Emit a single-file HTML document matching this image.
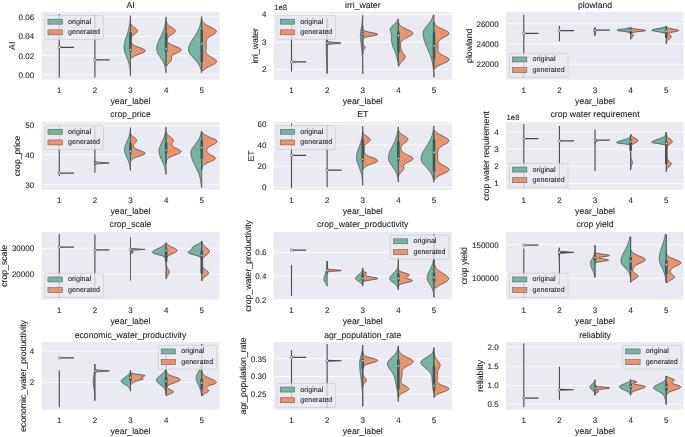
<!DOCTYPE html>
<html lang="en">
<head>
<meta charset="utf-8">
<title>violin plots: original vs generated</title>
<style>
html,body{margin:0;padding:0;background:#fff;}
body{width:685px;height:437px;overflow:hidden;}
svg{display:block;will-change:transform;}
svg text{text-rendering:geometricPrecision;font-family:"Liberation Sans",Arial,Helvetica,sans-serif;fill:#262626;stroke:#262626;stroke-width:0.1px;}
</style>
</head>
<body>
<svg width="685" height="437" viewBox="0 0 685 437">
<rect width="685" height="437" fill="#fff"/>
<g>
<rect x="41.45" y="11.9" width="178.1" height="67.8" fill="#eaeaf2"/>
<clipPath id="c0"><rect x="41.45" y="11.9" width="178.1" height="67.8"/></clipPath>
<path d="M41.45 17.1H219.55" stroke="#fff" stroke-width="0.8"/>
<text x="34.15" y="19.95" font-size="8.0" text-anchor="end">0.06</text>
<path d="M41.45 36.4H219.55" stroke="#fff" stroke-width="0.8"/>
<text x="34.15" y="39.25" font-size="8.0" text-anchor="end">0.04</text>
<path d="M41.45 55.7H219.55" stroke="#fff" stroke-width="0.8"/>
<text x="34.15" y="58.55" font-size="8.0" text-anchor="end">0.02</text>
<path d="M41.45 75H219.55" stroke="#fff" stroke-width="0.8"/>
<text x="34.15" y="77.85" font-size="8.0" text-anchor="end">0.00</text>
<text x="59.26" y="93.2" font-size="8.0" text-anchor="middle">1</text>
<text x="94.88" y="93.2" font-size="8.0" text-anchor="middle">2</text>
<text x="130.5" y="93.2" font-size="8.0" text-anchor="middle">3</text>
<text x="166.12" y="93.2" font-size="8.0" text-anchor="middle">4</text>
<text x="201.74" y="93.2" font-size="8.0" text-anchor="middle">5</text>
<g clip-path="url(#c0)" fill="none">
<path d="M59.26 13.9V77.5" stroke="#505050" stroke-width="1.15"/>
<path d="M59.26 47.3H73.86" stroke="#484848" stroke-width="1.25"/>
<circle cx="59.26" cy="47.3" r="1.25" fill="#fff" stroke="#484848" stroke-width="0.6"/>
<path d="M94.88 15.1V77.5" stroke="#505050" stroke-width="1.15"/>
<path d="M94.88 59.9H109.48" stroke="#484848" stroke-width="1.25"/>
<circle cx="94.88" cy="59.9" r="1.25" fill="#fff" stroke="#484848" stroke-width="0.6"/>
<path d="M130.5 15.8L130.35 15.8L130.34 16.2L130.32 16.6L130.31 17L130.29 17.4L130.27 17.8L130.25 18.2L130.22 18.6L130.2 19L130.17 19.4L130.14 19.8L130.11 20.2L130.08 20.6L130.04 21L130 21.4L129.96 21.8L129.92 22.2L129.87 22.6L129.83 23L129.77 23.4L129.72 23.8L129.66 24.2L129.6 24.6L129.54 25L129.47 25.4L129.4 25.8L129.33 26.2L129.25 26.6L129.17 27L129.09 27.4L129 27.8L128.91 28.2L128.82 28.6L128.72 29L128.62 29.4L128.52 29.8L128.41 30.2L128.3 30.6L128.18 31L128.07 31.4L127.95 31.8L127.83 32.2L127.7 32.6L127.58 33L127.45 33.4L127.32 33.8L127.19 34.2L127.06 34.6L126.92 35L126.79 35.4L126.65 35.8L126.52 36.2L126.38 36.6L126.25 37L126.11 37.4L125.98 37.8L125.85 38.2L125.72 38.6L125.6 39L125.48 39.4L125.36 39.8L125.24 40.2L125.13 40.6L125.02 41L124.91 41.4L124.82 41.8L124.72 42.2L124.63 42.6L124.55 43L124.48 43.4L124.41 43.8L124.34 44.2L124.29 44.6L124.24 45L124.2 45.4L124.16 45.8L124.13 46.2L124.12 46.6L124.1 47L124.1 47.4L124.11 47.8L124.12 48.2L124.15 48.6L124.19 49L124.24 49.4L124.3 49.8L124.37 50.2L124.45 50.6L124.54 51L124.64 51.4L124.75 51.8L124.87 52.2L124.99 52.6L125.12 53L125.26 53.4L125.4 53.8L125.55 54.2L125.7 54.6L125.85 55L126.01 55.4L126.17 55.8L126.33 56.2L126.5 56.6L126.66 57L126.82 57.4L126.98 57.8L127.15 58.2L127.31 58.6L127.46 59L127.62 59.4L127.77 59.8L127.92 60.2L128.06 60.6L128.2 61L128.34 61.4L128.47 61.8L128.6 62.2L128.72 62.6L128.84 63L128.95 63.4L129.06 63.8L129.16 64.2L129.26 64.6L129.35 65L129.44 65.4L129.52 65.8L129.6 66.2L129.67 66.6L129.74 67L129.8 67.4L129.86 67.8L129.92 68.2L129.97 68.6L130.02 69L130.06 69.4L130.1 69.8L130.14 70.2L130.18 70.6L130.21 71L130.24 71.4L130.26 71.8L130.29 72.2L130.31 72.6L130.33 73L130.35 73.4L130.37 73.8L130.38 74.2L130.39 74.6L130.41 75L130.42 75.4L130.43 75.8L130.5 75.8 Z" fill="#72b6a1" stroke="#505050" stroke-width="0.85" stroke-linejoin="round"/>
<path d="M130.5 24.5L131.45 24.5L131.71 24.9L132.02 25.3L132.37 25.7L132.78 26.1L133.23 26.51L133.71 26.91L134.23 27.31L134.76 27.71L135.29 28.11L135.8 28.51L136.27 28.91L136.69 29.31L137.04 29.72L137.29 30.12L137.45 30.52L137.5 30.92L137.44 31.32L137.27 31.72L137.01 32.12L136.65 32.52L136.23 32.92L135.75 33.33L135.24 33.73L134.71 34.13L134.18 34.53L133.67 34.93L133.18 35.33L132.74 35.73L132.34 36.13L131.99 36.54L131.68 36.94L131.43 37.34L131.22 37.74L131.05 38.14L130.92 38.54L130.82 38.94L130.75 39.34L130.71 39.75L130.69 40.15L130.69 40.55L130.72 40.95L130.78 41.35L130.86 41.75L130.99 42.15L131.15 42.55L131.37 42.95L131.65 43.36L132 43.76L132.43 44.16L132.94 44.56L133.55 44.96L134.26 45.36L135.05 45.76L135.94 46.16L136.91 46.57L137.94 46.97L139 47.37L140.08 47.77L141.13 48.17L142.12 48.57L143.02 48.97L143.8 49.37L144.41 49.77L144.84 50.18L145.07 50.58L145.08 50.98L144.88 51.38L144.47 51.78L143.87 52.18L143.12 52.58L142.23 52.98L141.24 53.39L140.19 53.79L139.12 54.19L138.05 54.59L137.02 54.99L136.05 55.39L135.15 55.79L134.34 56.19L133.62 56.6L133 57L132.48 57.4L132.04 57.8L131.68 58.2L130.5 58.2 Z" fill="#e9946f" stroke="#505050" stroke-width="0.85" stroke-linejoin="round"/>
<path d="M130.5 24.5V57.9" stroke="#505050" stroke-width="0.6"/>
<path d="M130.5 32.3V51.5" stroke="#505050" stroke-width="2.6"/>
<circle cx="130.5" cy="49.7" r="1.05" fill="#fff" stroke="#484848" stroke-width="0.6"/>
<path d="M166.12 17L165.92 17L165.9 17.4L165.88 17.8L165.85 18.2L165.83 18.6L165.8 19L165.77 19.4L165.74 19.81L165.7 20.21L165.66 20.61L165.62 21.01L165.58 21.41L165.53 21.81L165.48 22.21L165.43 22.61L165.37 23.01L165.31 23.41L165.25 23.81L165.18 24.21L165.11 24.61L165.03 25.01L164.95 25.42L164.87 25.82L164.78 26.22L164.68 26.62L164.58 27.02L164.48 27.42L164.37 27.82L164.25 28.22L164.13 28.62L164.01 29.02L163.88 29.42L163.75 29.82L163.61 30.22L163.46 30.62L163.31 31.03L163.16 31.43L163 31.83L162.83 32.23L162.67 32.63L162.49 33.03L162.32 33.43L162.14 33.83L161.95 34.23L161.77 34.63L161.58 35.03L161.38 35.43L161.19 35.83L160.99 36.23L160.8 36.64L160.6 37.04L160.4 37.44L160.2 37.84L160 38.24L159.81 38.64L159.61 39.04L159.42 39.44L159.23 39.84L159.04 40.24L158.86 40.64L158.68 41.04L158.5 41.44L158.33 41.84L158.17 42.25L158.01 42.65L157.86 43.05L157.72 43.45L157.58 43.85L157.46 44.25L157.34 44.65L157.23 45.05L157.13 45.45L157.04 45.85L156.97 46.25L156.9 46.65L156.84 47.05L156.79 47.45L156.76 47.86L156.73 48.26L156.72 48.66L156.72 49.06L156.74 49.46L156.78 49.86L156.84 50.26L156.92 50.66L157.02 51.06L157.14 51.46L157.27 51.86L157.43 52.26L157.6 52.66L157.78 53.06L157.98 53.47L158.19 53.87L158.42 54.27L158.65 54.67L158.9 55.07L159.15 55.47L159.4 55.87L159.67 56.27L159.93 56.67L160.2 57.07L160.47 57.47L160.74 57.87L161 58.27L161.27 58.67L161.53 59.08L161.79 59.48L162.04 59.88L162.28 60.28L162.52 60.68L162.75 61.08L162.98 61.48L163.19 61.88L163.4 62.28L163.6 62.68L163.78 63.08L163.96 63.48L164.13 63.88L164.29 64.28L164.44 64.69L164.59 65.09L164.72 65.49L164.84 65.89L164.96 66.29L165.07 66.69L165.17 67.09L165.26 67.49L165.35 67.89L165.42 68.29L165.5 68.69L165.56 69.09L165.62 69.49L165.68 69.89L165.72 70.3L165.77 70.7L165.81 71.1L165.85 71.5L165.88 71.9L165.91 72.3L165.93 72.7L166.12 72.7 Z" fill="#72b6a1" stroke="#505050" stroke-width="0.85" stroke-linejoin="round"/>
<path d="M166.12 21L166.31 21L166.38 21.4L166.47 21.8L166.58 22.2L166.73 22.6L166.9 23L167.11 23.41L167.37 23.81L167.67 24.21L168.02 24.61L168.42 25.01L168.88 25.41L169.38 25.81L169.92 26.21L170.5 26.61L171.1 27.01L171.72 27.41L172.34 27.82L172.94 28.22L173.51 28.62L174.03 29.02L174.47 29.42L174.84 29.82L175.11 30.22L175.27 30.62L175.32 31.02L175.26 31.42L175.08 31.82L174.8 32.23L174.43 32.63L173.97 33.03L173.45 33.43L172.88 33.83L172.27 34.23L171.65 34.63L171.04 35.03L170.44 35.43L169.86 35.83L169.33 36.23L168.84 36.63L168.4 37.04L168.02 37.44L167.69 37.84L167.42 38.24L167.2 38.64L167.04 39.04L166.93 39.44L166.87 39.84L166.87 40.24L166.92 40.64L167.04 41.04L167.21 41.45L167.45 41.85L167.76 42.25L168.14 42.65L168.61 43.05L169.16 43.45L169.79 43.85L170.51 44.25L171.31 44.65L172.19 45.05L173.12 45.45L174.1 45.86L175.11 46.26L176.12 46.66L177.11 47.06L178.04 47.46L178.9 47.86L179.65 48.26L180.26 48.66L180.73 49.06L181.02 49.46L181.14 49.86L181.08 50.27L180.83 50.67L180.42 51.07L179.87 51.47L179.19 51.87L178.41 52.27L177.57 52.67L176.7 53.07L175.83 53.47L174.99 53.87L174.21 54.27L173.51 54.68L172.9 55.08L172.41 55.48L172.03 55.88L171.75 56.28L171.58 56.68L171.49 57.08L171.46 57.48L171.48 57.88L171.52 58.28L171.55 58.68L171.56 59.08L171.53 59.49L171.44 59.89L171.29 60.29L171.07 60.69L170.8 61.09L170.47 61.49L170.1 61.89L169.7 62.29L169.29 62.69L168.87 63.09L168.47 63.49L168.1 63.9L167.75 64.3L167.44 64.7L167.17 65.1L166.94 65.5L166.75 65.9L166.12 65.9 Z" fill="#e9946f" stroke="#505050" stroke-width="0.85" stroke-linejoin="round"/>
<path d="M166.12 21V65.4" stroke="#505050" stroke-width="0.6"/>
<path d="M166.12 33.2V51.5" stroke="#505050" stroke-width="2.6"/>
<circle cx="166.12" cy="48.9" r="1.05" fill="#fff" stroke="#484848" stroke-width="0.6"/>
<path d="M201.74 16.7L201.44 16.7L201.41 17.1L201.38 17.5L201.35 17.9L201.31 18.3L201.27 18.7L201.23 19.1L201.18 19.5L201.14 19.9L201.08 20.3L201.03 20.7L200.97 21.1L200.91 21.5L200.84 21.9L200.77 22.3L200.69 22.7L200.61 23.1L200.52 23.5L200.43 23.9L200.33 24.3L200.23 24.7L200.13 25.1L200.01 25.5L199.89 25.9L199.77 26.3L199.64 26.7L199.5 27.1L199.36 27.5L199.21 27.9L199.05 28.3L198.89 28.7L198.72 29.1L198.54 29.5L198.36 29.9L198.17 30.3L197.97 30.7L197.77 31.1L197.56 31.5L197.35 31.9L197.13 32.3L196.9 32.7L196.67 33.1L196.43 33.5L196.19 33.9L195.95 34.3L195.7 34.7L195.44 35.1L195.19 35.5L194.93 35.9L194.66 36.3L194.4 36.7L194.13 37.1L193.87 37.5L193.6 37.9L193.33 38.3L193.07 38.7L192.8 39.1L192.54 39.5L192.28 39.9L192.03 40.3L191.78 40.7L191.53 41.1L191.29 41.5L191.05 41.9L190.83 42.3L190.61 42.7L190.39 43.1L190.19 43.5L190 43.9L189.81 44.3L189.64 44.7L189.48 45.1L189.32 45.5L189.19 45.9L189.06 46.3L188.95 46.7L188.85 47.1L188.76 47.5L188.69 47.9L188.63 48.3L188.59 48.7L188.56 49.1L188.54 49.5L188.54 49.9L188.57 50.3L188.63 50.7L188.72 51.1L188.83 51.5L188.97 51.9L189.14 52.3L189.34 52.7L189.55 53.1L189.8 53.5L190.06 53.9L190.34 54.3L190.64 54.7L190.95 55.1L191.28 55.5L191.62 55.9L191.98 56.3L192.34 56.7L192.7 57.1L193.08 57.5L193.45 57.9L193.83 58.3L194.2 58.7L194.58 59.1L194.95 59.5L195.31 59.9L195.67 60.3L196.03 60.7L196.37 61.1L196.7 61.5L197.03 61.9L197.34 62.3L197.64 62.7L197.93 63.1L198.21 63.5L198.47 63.9L198.72 64.3L198.96 64.7L199.18 65.1L199.39 65.5L199.59 65.9L199.78 66.3L199.95 66.7L200.12 67.1L200.27 67.5L200.41 67.9L200.54 68.3L200.65 68.7L200.76 69.1L200.86 69.5L200.96 69.9L201.04 70.3L201.12 70.7L201.19 71.1L201.25 71.5L201.3 71.9L201.35 72.3L201.4 72.7L201.74 72.7 Z" fill="#72b6a1" stroke="#505050" stroke-width="0.85" stroke-linejoin="round"/>
<path d="M201.74 19.9L202.12 19.9L202.23 20.3L202.36 20.7L202.53 21.1L202.72 21.5L202.96 21.9L203.24 22.3L203.57 22.71L203.95 23.11L204.38 23.51L204.87 23.91L205.42 24.31L206.03 24.71L206.69 25.11L207.4 25.51L208.15 25.91L208.94 26.31L209.76 26.71L210.59 27.11L211.41 27.52L212.22 27.92L212.99 28.32L213.72 28.72L214.38 29.12L214.95 29.52L215.44 29.92L215.81 30.32L216.08 30.72L216.22 31.12L216.24 31.52L216.15 31.92L215.93 32.32L215.61 32.73L215.19 33.13L214.69 33.53L214.12 33.93L213.5 34.33L212.83 34.73L212.15 35.13L211.47 35.53L210.79 35.93L210.14 36.33L209.53 36.73L208.95 37.13L208.43 37.53L207.96 37.94L207.56 38.34L207.2 38.74L206.91 39.14L206.67 39.54L206.48 39.94L206.33 40.34L206.23 40.74L206.16 41.14L206.12 41.54L206.11 41.94L206.11 42.34L206.13 42.75L206.15 43.15L206.18 43.55L206.21 43.95L206.24 44.35L206.26 44.75L206.28 45.15L206.28 45.55L206.28 45.95L206.27 46.35L206.25 46.75L206.22 47.15L206.18 47.55L206.13 47.96L206.07 48.36L206.02 48.76L205.96 49.16L205.9 49.56L205.85 49.96L205.81 50.36L205.79 50.76L205.79 51.16L205.81 51.56L205.87 51.96L205.96 52.36L206.1 52.77L206.28 53.17L206.52 53.57L206.82 53.97L207.18 54.37L207.59 54.77L208.07 55.17L208.61 55.57L209.2 55.97L209.85 56.37L210.53 56.77L211.23 57.17L211.96 57.57L212.68 57.98L213.38 58.38L214.06 58.78L214.68 59.18L215.23 59.58L215.7 59.98L216.07 60.38L216.34 60.78L216.48 61.18L216.51 61.58L216.4 61.98L216.17 62.38L215.82 62.78L215.36 63.19L214.8 63.59L214.15 63.99L213.43 64.39L212.65 64.79L211.83 65.19L211 65.59L210.15 65.99L209.31 66.39L208.5 66.79L207.72 67.19L206.98 67.59L206.29 68L205.65 68.4L205.08 68.8L204.56 69.2L204.1 69.6L203.7 70L203.35 70.4L201.74 70.4 Z" fill="#e9946f" stroke="#505050" stroke-width="0.85" stroke-linejoin="round"/>
<path d="M201.74 22.8V68.9" stroke="#505050" stroke-width="0.6"/>
<path d="M201.74 29.7V61.9" stroke="#505050" stroke-width="2.6"/>
<circle cx="201.74" cy="43.7" r="1.05" fill="#fff" stroke="#484848" stroke-width="0.6"/>
</g>
<rect x="44.85" y="15.5" width="58.6" height="23.9" rx="1.6" fill="#eaeaf2" fill-opacity="0.8" stroke="#ccc" stroke-width="0.7"/>
<rect x="47.95" y="19.15" width="14.4" height="5" fill="#72b6a1" stroke="#505050" stroke-width="0.5"/>
<text x="68.05" y="23.65" font-size="7.12">original</text>
<rect x="47.95" y="29.85" width="14.4" height="5" fill="#e9946f" stroke="#505050" stroke-width="0.5"/>
<text x="68.05" y="34.35" font-size="7.12">generated</text>
<text x="130.5" y="7.7" font-size="8.67" text-anchor="middle">AI</text>
<text x="130.5" y="104" font-size="8.67" text-anchor="middle">year_label</text>
<text transform="translate(14.65 45.8) rotate(-90)" font-size="8.67" text-anchor="middle">AI</text>
</g>
<g>
<rect x="273.7" y="11.9" width="178.1" height="67.8" fill="#eaeaf2"/>
<clipPath id="c1"><rect x="273.7" y="11.9" width="178.1" height="67.8"/></clipPath>
<path d="M273.7 14.6H451.8" stroke="#fff" stroke-width="0.8"/>
<text x="266.4" y="17.45" font-size="8.0" text-anchor="end">4</text>
<path d="M273.7 42.3H451.8" stroke="#fff" stroke-width="0.8"/>
<text x="266.4" y="45.15" font-size="8.0" text-anchor="end">3</text>
<path d="M273.7 69.6H451.8" stroke="#fff" stroke-width="0.8"/>
<text x="266.4" y="72.45" font-size="8.0" text-anchor="end">2</text>
<text x="291.51" y="93.2" font-size="8.0" text-anchor="middle">1</text>
<text x="327.13" y="93.2" font-size="8.0" text-anchor="middle">2</text>
<text x="362.75" y="93.2" font-size="8.0" text-anchor="middle">3</text>
<text x="398.37" y="93.2" font-size="8.0" text-anchor="middle">4</text>
<text x="433.99" y="93.2" font-size="8.0" text-anchor="middle">5</text>
<g clip-path="url(#c1)" fill="none">
<path d="M291.51 23.9V71.5" stroke="#505050" stroke-width="1.15"/>
<path d="M291.51 61.9H306.11" stroke="#484848" stroke-width="1.25"/>
<circle cx="291.51" cy="61.9" r="1.25" fill="#fff" stroke="#484848" stroke-width="0.6"/>
<path d="M327.13 18.3L327.12 18.3L327.12 18.7L327.12 19.1L327.11 19.5L327.11 19.9L327.11 20.3L327.11 20.7L327.11 21.09L327.1 21.49L327.1 21.89L327.1 22.29L327.09 22.69L327.09 23.09L327.08 23.49L327.08 23.89L327.07 24.29L327.07 24.69L327.06 25.09L327.06 25.49L327.05 25.89L327.04 26.29L327.04 26.68L327.03 27.08L327.02 27.48L327.01 27.88L327 28.28L326.99 28.68L326.98 29.08L326.97 29.48L326.95 29.88L326.94 30.28L326.93 30.68L326.91 31.08L326.9 31.48L326.88 31.88L326.86 32.27L326.85 32.67L326.83 33.07L326.81 33.47L326.79 33.87L326.77 34.27L326.75 34.67L326.73 35.07L326.71 35.47L326.69 35.87L326.67 36.27L326.65 36.67L326.63 37.07L326.61 37.47L326.59 37.86L326.56 38.26L326.54 38.66L326.52 39.06L326.5 39.46L326.48 39.86L326.46 40.26L326.44 40.66L326.42 41.06L326.4 41.46L326.38 41.86L326.36 42.26L326.35 42.66L326.33 43.06L326.31 43.45L326.3 43.85L326.29 44.25L326.28 44.65L326.27 45.05L326.26 45.45L326.25 45.85L326.24 46.25L326.24 46.65L326.23 47.05L326.23 47.45L326.23 47.85L326.23 48.25L326.23 48.64L326.24 49.04L326.24 49.44L326.25 49.84L326.25 50.24L326.26 50.64L326.27 51.04L326.28 51.44L326.3 51.84L326.31 52.24L326.33 52.64L326.34 53.04L326.36 53.44L326.38 53.84L326.39 54.23L326.41 54.63L326.43 55.03L326.45 55.43L326.47 55.83L326.49 56.23L326.52 56.63L326.54 57.03L326.56 57.43L326.58 57.83L326.6 58.23L326.62 58.63L326.65 59.03L326.67 59.43L326.69 59.82L326.71 60.22L326.73 60.62L326.75 61.02L326.77 61.42L326.79 61.82L326.81 62.22L326.83 62.62L326.84 63.02L326.86 63.42L326.88 63.82L326.89 64.22L326.91 64.62L326.92 65.02L326.94 65.41L326.95 65.81L326.96 66.21L326.97 66.61L326.99 67.01L327 67.41L327.01 67.81L327.02 68.21L327.02 68.61L327.03 69.01L327.04 69.41L327.05 69.81L327.06 70.21L327.06 70.61L327.07 71L327.07 71.4L327.08 71.8L327.08 72.2L327.09 72.6L327.09 73L327.1 73.4L327.13 73.4 Z" fill="#72b6a1" stroke="#505050" stroke-width="0.85" stroke-linejoin="round"/>
<path d="M327.13 40.4L327.13 40.4L327.14 40.81L327.23 41.22L327.83 41.62L330.07 42.03L334.97 42.44L340.3 42.85L341.06 43.25L336.42 43.66L331.04 44.07L328.16 44.48L327.3 44.88L327.15 45.29L327.13 45.7L327.13 45.7 Z" fill="#e9946f" stroke="#505050" stroke-width="0.85" stroke-linejoin="round"/>
<path d="M327.13 18.3V73.4" stroke="#505050" stroke-width="0.8"/>
<circle cx="327.13" cy="43.1" r="1.1" fill="#fff" stroke="#484848" stroke-width="0.6"/>
<path d="M362.75 15.3L362.67 15.3L362.66 15.7L362.65 16.1L362.64 16.5L362.62 16.91L362.6 17.31L362.58 17.71L362.56 18.11L362.54 18.51L362.51 18.91L362.48 19.31L362.45 19.72L362.42 20.12L362.38 20.52L362.35 20.92L362.3 21.32L362.26 21.72L362.21 22.12L362.16 22.52L362.11 22.93L362.05 23.33L361.99 23.73L361.93 24.13L361.87 24.53L361.8 24.93L361.73 25.33L361.66 25.74L361.59 26.14L361.51 26.54L361.44 26.94L361.37 27.34L361.29 27.74L361.22 28.14L361.14 28.55L361.07 28.95L361 29.35L360.93 29.75L360.87 30.15L360.81 30.55L360.75 30.95L360.69 31.35L360.64 31.76L360.6 32.16L360.56 32.56L360.53 32.96L360.5 33.36L360.48 33.76L360.46 34.16L360.45 34.57L360.45 34.97L360.45 35.37L360.46 35.77L360.47 36.17L360.48 36.57L360.49 36.97L360.51 37.38L360.53 37.78L360.55 38.18L360.58 38.58L360.6 38.98L360.63 39.38L360.67 39.78L360.7 40.18L360.74 40.59L360.78 40.99L360.82 41.39L360.86 41.79L360.9 42.19L360.95 42.59L361 42.99L361.04 43.4L361.09 43.8L361.14 44.2L361.19 44.6L361.24 45L361.29 45.4L361.34 45.8L361.39 46.21L361.44 46.61L361.5 47.01L361.55 47.41L361.6 47.81L361.64 48.21L361.69 48.61L361.74 49.02L361.79 49.42L361.83 49.82L361.88 50.22L361.92 50.62L361.96 51.02L362.01 51.42L362.05 51.82L362.08 52.23L362.12 52.63L362.16 53.03L362.19 53.43L362.23 53.83L362.26 54.23L362.29 54.63L362.32 55.04L362.35 55.44L362.37 55.84L362.4 56.24L362.42 56.64L362.45 57.04L362.47 57.44L362.49 57.85L362.51 58.25L362.53 58.65L362.54 59.05L362.56 59.45L362.57 59.85L362.59 60.25L362.6 60.65L362.61 61.06L362.63 61.46L362.64 61.86L362.65 62.26L362.65 62.66L362.66 63.06L362.67 63.46L362.68 63.87L362.68 64.27L362.69 64.67L362.7 65.07L362.7 65.47L362.71 65.87L362.71 66.27L362.71 66.68L362.72 67.08L362.72 67.48L362.72 67.88L362.73 68.28L362.73 68.68L362.73 69.08L362.73 69.48L362.74 69.89L362.74 70.29L362.74 70.69L362.74 71.09L362.74 71.49L362.74 71.89L362.74 72.29L362.74 72.7L362.74 73.1L362.75 73.5L362.75 73.9L362.75 73.9 Z" fill="#72b6a1" stroke="#505050" stroke-width="0.85" stroke-linejoin="round"/>
<path d="M362.75 25.9L362.75 25.9L362.75 26.3L362.75 26.7L362.75 27.1L362.75 27.5L362.76 27.9L362.78 28.3L362.82 28.7L362.89 29.1L363.02 29.5L363.27 29.9L363.68 30.3L364.32 30.7L365.27 31.1L366.56 31.5L368.21 31.9L370.16 32.3L372.25 32.7L374.29 33.1L376 33.5L377.15 33.9L377.55 34.3L377.15 34.7L376 35.1L374.29 35.5L372.25 35.9L370.16 36.3L368.21 36.7L366.56 37.1L365.27 37.5L364.32 37.9L363.68 38.3L363.27 38.7L363.02 39.1L362.89 39.5L362.82 39.9L362.78 40.3L362.76 40.7L362.76 41.1L362.76 41.5L362.76 41.9L362.77 42.3L362.79 42.7L362.83 43.1L362.9 43.5L363 43.9L363.16 44.3L363.37 44.7L363.64 45.1L363.95 45.5L364.29 45.9L364.62 46.3L364.9 46.7L365.08 47.1L365.15 47.5L365.08 47.9L364.9 48.3L364.62 48.7L364.29 49.1L363.95 49.5L363.64 49.9L363.37 50.3L363.16 50.7L363 51.1L362.9 51.5L362.83 51.9L362.79 52.3L362.77 52.7L362.76 53.1L362.75 53.5L362.75 53.9L362.75 53.9 Z" fill="#e9946f" stroke="#505050" stroke-width="0.85" stroke-linejoin="round"/>
<path d="M362.75 32.4V36.4" stroke="#505050" stroke-width="2.6"/>
<circle cx="362.75" cy="34.3" r="1.05" fill="#fff" stroke="#484848" stroke-width="0.6"/>
<path d="M398.37 19.2L397.84 19.2L397.72 19.6L397.58 20L397.42 20.4L397.23 20.8L397.01 21.2L396.76 21.6L396.48 22L396.17 22.4L395.82 22.8L395.44 23.2L395.04 23.6L394.61 24L394.17 24.4L393.71 24.8L393.25 25.2L392.8 25.6L392.36 26L391.94 26.4L391.56 26.8L391.21 27.2L390.91 27.6L390.65 28L390.45 28.4L390.3 28.8L390.21 29.2L390.17 29.6L390.17 30L390.22 30.4L390.3 30.8L390.41 31.2L390.54 31.6L390.68 32L390.83 32.4L390.97 32.8L391.1 33.2L391.23 33.6L391.33 34L391.42 34.4L391.49 34.8L391.54 35.2L391.57 35.6L391.59 36L391.59 36.4L391.58 36.8L391.57 37.2L391.55 37.6L391.53 38L391.52 38.4L391.5 38.8L391.5 39.2L391.5 39.6L391.52 40L391.54 40.4L391.57 40.8L391.61 41.2L391.65 41.6L391.71 42L391.77 42.4L391.85 42.8L391.93 43.2L392.02 43.6L392.12 44L392.22 44.4L392.34 44.8L392.46 45.2L392.59 45.6L392.72 46L392.86 46.4L393.01 46.8L393.16 47.2L393.31 47.6L393.47 48L393.63 48.4L393.79 48.8L393.96 49.2L394.12 49.6L394.29 50L394.45 50.4L394.62 50.8L394.78 51.2L394.94 51.6L395.1 52L395.26 52.4L395.41 52.8L395.56 53.2L395.71 53.6L395.85 54L395.99 54.4L396.13 54.8L396.26 55.2L396.39 55.6L396.51 56L396.63 56.4L396.74 56.8L396.85 57.2L396.95 57.6L397.05 58L397.14 58.4L397.23 58.8L397.31 59.2L397.39 59.6L397.47 60L397.54 60.4L397.6 60.8L397.67 61.2L397.72 61.6L397.78 62L397.83 62.4L398.37 62.4 Z" fill="#72b6a1" stroke="#505050" stroke-width="0.85" stroke-linejoin="round"/>
<path d="M398.37 22.4L398.66 22.4L398.75 22.8L398.87 23.2L399.02 23.59L399.21 23.99L399.43 24.39L399.7 24.79L400.03 25.19L400.41 25.59L400.85 25.98L401.36 26.38L401.93 26.78L402.57 27.18L403.28 27.58L404.04 27.97L404.86 28.37L405.71 28.77L406.59 29.17L407.49 29.57L408.37 29.97L409.23 30.36L410.04 30.76L410.78 31.16L411.44 31.56L411.98 31.96L412.4 32.35L412.69 32.75L412.84 33.15L412.84 33.55L412.69 33.95L412.4 34.35L411.98 34.74L411.45 35.14L410.81 35.54L410.1 35.94L409.33 36.34L408.51 36.73L407.68 37.13L406.86 37.53L406.05 37.93L405.28 38.33L404.56 38.73L403.89 39.12L403.29 39.52L402.76 39.92L402.3 40.32L401.9 40.72L401.57 41.11L401.3 41.51L401.09 41.91L400.92 42.31L400.8 42.71L400.71 43.11L400.64 43.5L400.6 43.9L400.58 44.3L400.57 44.7L400.57 45.1L400.57 45.49L400.58 45.89L400.59 46.29L400.61 46.69L400.63 47.09L400.66 47.49L400.7 47.88L400.75 48.28L400.81 48.68L400.89 49.08L400.99 49.48L401.12 49.87L401.27 50.27L401.45 50.67L401.66 51.07L401.9 51.47L402.16 51.87L402.44 52.26L402.74 52.66L403.05 53.06L403.37 53.46L403.68 53.86L403.99 54.25L404.28 54.65L404.53 55.05L404.75 55.45L404.93 55.85L405.06 56.25L405.13 56.64L405.14 57.04L405.09 57.44L404.97 57.84L404.8 58.24L404.58 58.63L404.31 59.03L403.99 59.43L403.64 59.83L403.26 60.23L402.87 60.63L402.47 61.02L402.07 61.42L401.67 61.82L401.29 62.22L400.93 62.62L400.59 63.01L400.27 63.41L399.99 63.81L399.73 64.21L399.51 64.61L399.31 65.01L399.14 65.4L398.99 65.8L398.87 66.2L398.37 66.2 Z" fill="#e9946f" stroke="#505050" stroke-width="0.85" stroke-linejoin="round"/>
<path d="M398.37 22.4V65.9" stroke="#505050" stroke-width="0.6"/>
<path d="M398.37 31.5V52.5" stroke="#505050" stroke-width="2.6"/>
<circle cx="398.37" cy="35.5" r="1.05" fill="#fff" stroke="#484848" stroke-width="0.6"/>
<path d="M433.99 15L433.2 15L433.11 15.4L433 15.8L432.89 16.2L432.77 16.59L432.64 16.99L432.49 17.39L432.34 17.79L432.18 18.19L432 18.59L431.81 18.99L431.61 19.39L431.4 19.78L431.17 20.18L430.94 20.58L430.69 20.98L430.43 21.38L430.16 21.78L429.88 22.18L429.59 22.58L429.29 22.97L428.99 23.37L428.68 23.77L428.36 24.17L428.04 24.57L427.71 24.97L427.38 25.37L427.06 25.77L426.73 26.16L426.41 26.56L426.1 26.96L425.79 27.36L425.49 27.76L425.21 28.16L424.93 28.56L424.67 28.96L424.43 29.35L424.2 29.75L423.99 30.15L423.81 30.55L423.65 30.95L423.51 31.35L423.39 31.75L423.3 32.14L423.24 32.54L423.2 32.94L423.19 33.34L423.19 33.74L423.21 34.14L423.23 34.54L423.25 34.94L423.29 35.33L423.33 35.73L423.38 36.13L423.44 36.53L423.5 36.93L423.57 37.33L423.65 37.73L423.73 38.13L423.83 38.52L423.92 38.92L424.03 39.32L424.14 39.72L424.25 40.12L424.37 40.52L424.5 40.92L424.63 41.32L424.76 41.71L424.9 42.11L425.05 42.51L425.19 42.91L425.35 43.31L425.5 43.71L425.66 44.11L425.82 44.51L425.98 44.9L426.15 45.3L426.32 45.7L426.49 46.1L426.66 46.5L426.83 46.9L427 47.3L427.18 47.69L427.35 48.09L427.52 48.49L427.7 48.89L427.87 49.29L428.04 49.69L428.22 50.09L428.39 50.49L428.56 50.88L428.73 51.28L428.89 51.68L429.06 52.08L429.22 52.48L429.38 52.88L429.54 53.28L429.7 53.68L429.85 54.07L430 54.47L430.15 54.87L430.3 55.27L430.44 55.67L430.58 56.07L430.71 56.47L430.85 56.87L430.98 57.26L431.1 57.66L431.23 58.06L431.34 58.46L431.46 58.86L431.57 59.26L431.68 59.66L431.79 60.06L431.89 60.45L431.99 60.85L432.09 61.25L432.18 61.65L432.27 62.05L432.36 62.45L432.44 62.85L432.52 63.24L432.59 63.64L432.67 64.04L432.74 64.44L432.81 64.84L432.87 65.24L432.93 65.64L432.99 66.04L433.05 66.43L433.1 66.83L433.15 67.23L433.2 67.63L433.25 68.03L433.29 68.43L433.34 68.83L433.38 69.23L433.41 69.62L433.45 70.02L433.48 70.42L433.52 70.82L433.55 71.22L433.58 71.62L433.6 72.02L433.63 72.42L433.65 72.81L433.68 73.21L433.7 73.61L433.72 74.01L433.74 74.41L433.76 74.81L433.77 75.21L433.79 75.61L433.8 76L433.82 76.4L433.83 76.8L433.84 77.2L433.99 77.2 Z" fill="#72b6a1" stroke="#505050" stroke-width="0.85" stroke-linejoin="round"/>
<path d="M433.99 22.4L434.35 22.4L434.46 22.8L434.59 23.2L434.76 23.6L434.97 24L435.22 24.4L435.53 24.81L435.88 25.21L436.29 25.61L436.77 26.01L437.31 26.41L437.92 26.81L438.59 27.21L439.32 27.61L440.11 28.01L440.95 28.41L441.82 28.81L442.71 29.21L443.61 29.62L444.49 30.02L445.34 30.42L446.14 30.82L446.87 31.22L447.51 31.62L448.05 32.02L448.46 32.42L448.74 32.82L448.89 33.22L448.89 33.62L448.75 34.02L448.48 34.43L448.09 34.83L447.59 35.23L447 35.63L446.33 36.03L445.61 36.43L444.86 36.83L444.09 37.23L443.32 37.63L442.58 38.03L441.87 38.43L441.22 38.84L440.61 39.24L440.07 39.64L439.6 40.04L439.2 40.44L438.86 40.84L438.59 41.24L438.37 41.64L438.21 42.04L438.1 42.44L438.02 42.84L437.98 43.24L437.96 43.65L437.96 44.05L437.97 44.45L438 44.85L438.02 45.25L438.04 45.65L438.06 46.05L438.07 46.45L438.08 46.85L438.08 47.25L438.07 47.65L438.06 48.06L438.04 48.46L438.02 48.86L438.01 49.26L438.01 49.66L438.02 50.06L438.06 50.46L438.13 50.86L438.23 51.26L438.38 51.66L438.59 52.06L438.86 52.46L439.19 52.87L439.6 53.27L440.08 53.67L440.63 54.07L441.25 54.47L441.94 54.87L442.68 55.27L443.46 55.67L444.26 56.07L445.06 56.47L445.85 56.87L446.59 57.28L447.28 57.68L447.87 58.08L448.35 58.48L448.71 58.88L448.93 59.28L449 59.68L448.91 60.08L448.67 60.48L448.27 60.88L447.74 61.28L447.09 61.68L446.34 62.09L445.5 62.49L444.6 62.89L443.67 63.29L442.72 63.69L441.78 64.09L440.86 64.49L439.98 64.89L439.16 65.29L438.41 65.69L437.72 66.09L437.1 66.49L436.56 66.9L436.09 67.3L435.68 67.7L435.34 68.1L435.06 68.5L434.82 68.9L433.99 68.9 Z" fill="#e9946f" stroke="#505050" stroke-width="0.85" stroke-linejoin="round"/>
<path d="M433.99 22.4V68.9" stroke="#505050" stroke-width="0.6"/>
<path d="M433.99 32.4V58.9" stroke="#505050" stroke-width="2.6"/>
<circle cx="433.99" cy="46.1" r="1.05" fill="#fff" stroke="#484848" stroke-width="0.6"/>
</g>
<rect x="277.1" y="15.5" width="58.6" height="23.9" rx="1.6" fill="#eaeaf2" fill-opacity="0.8" stroke="#ccc" stroke-width="0.7"/>
<rect x="280.2" y="19.15" width="14.4" height="5" fill="#72b6a1" stroke="#505050" stroke-width="0.5"/>
<text x="300.3" y="23.65" font-size="7.12">original</text>
<rect x="280.2" y="29.85" width="14.4" height="5" fill="#e9946f" stroke="#505050" stroke-width="0.5"/>
<text x="300.3" y="34.35" font-size="7.12">generated</text>
<text x="362.75" y="7.7" font-size="8.67" text-anchor="middle">irri_water</text>
<text x="362.75" y="104" font-size="8.67" text-anchor="middle">year_label</text>
<text transform="translate(258.2 45.8) rotate(-90)" font-size="8.67" text-anchor="middle">irri_water</text>
<text x="274.3" y="10" font-size="7.7">1e8</text>
</g>
<g>
<rect x="506" y="11.9" width="178.1" height="67.8" fill="#eaeaf2"/>
<clipPath id="c2"><rect x="506" y="11.9" width="178.1" height="67.8"/></clipPath>
<path d="M506 23.7H684.1" stroke="#fff" stroke-width="0.8"/>
<text x="498.7" y="26.55" font-size="8.0" text-anchor="end">26000</text>
<path d="M506 43.7H684.1" stroke="#fff" stroke-width="0.8"/>
<text x="498.7" y="46.55" font-size="8.0" text-anchor="end">24000</text>
<path d="M506 64.3H684.1" stroke="#fff" stroke-width="0.8"/>
<text x="498.7" y="67.15" font-size="8.0" text-anchor="end">22000</text>
<text x="523.81" y="93.2" font-size="8.0" text-anchor="middle">1</text>
<text x="559.43" y="93.2" font-size="8.0" text-anchor="middle">2</text>
<text x="595.05" y="93.2" font-size="8.0" text-anchor="middle">3</text>
<text x="630.67" y="93.2" font-size="8.0" text-anchor="middle">4</text>
<text x="666.29" y="93.2" font-size="8.0" text-anchor="middle">5</text>
<g clip-path="url(#c2)" fill="none">
<path d="M523.81 14.8V77.8" stroke="#505050" stroke-width="1.15"/>
<path d="M523.81 33.3H538.41" stroke="#484848" stroke-width="1.25"/>
<circle cx="523.81" cy="33.3" r="1.25" fill="#fff" stroke="#484848" stroke-width="0.6"/>
<path d="M559.43 25.7V41.2" stroke="#505050" stroke-width="1.15"/>
<path d="M559.43 30.5H574.03" stroke="#484848" stroke-width="1.25"/>
<circle cx="559.43" cy="30.5" r="1.25" fill="#fff" stroke="#484848" stroke-width="0.6"/>
<path d="M595.05 27.4L594.96 27.4L594.87 27.8L594.74 28.21L594.54 28.61L594.31 29.02L594.07 29.42L593.87 29.83L593.76 30.23L593.77 30.64L593.9 31.04L594.11 31.45L594.36 31.86L594.58 32.26L594.77 32.66L594.89 33.07L594.97 33.48L595.01 33.88L595.04 34.28L595.04 34.69L595.05 35.09L595.05 35.5L595.05 35.5 Z" fill="#72b6a1" stroke="#505050" stroke-width="0.85" stroke-linejoin="round"/>
<path d="M595.05 27.4V35.5" stroke="#505050" stroke-width="1.15"/>
<path d="M595.05 30.2H609.65" stroke="#484848" stroke-width="1.25"/>
<circle cx="595.05" cy="30.2" r="1.1" fill="#fff" stroke="#484848" stroke-width="0.6"/>
<path d="M630.67 27.7L629.87 27.7L628.82 28.1L626.98 28.5L624.3 28.9L621.18 29.3L618.44 29.7L617.03 30.1L617.52 30.5L619.7 30.9L622.76 31.3L625.73 31.7L628 32.1L629.43 32.5L630.17 32.9L630.49 33.3L630.62 33.7L630.66 34.1L630.67 34.5L630.67 34.9L630.67 34.9 Z" fill="#72b6a1" stroke="#505050" stroke-width="0.85" stroke-linejoin="round"/>
<path d="M630.67 27.7L630.97 27.7L631.52 28.1L632.73 28.51L634.91 28.91L638.09 29.31L641.71 29.72L644.63 30.12L645.67 30.52L644.36 30.93L641.3 31.33L637.71 31.73L634.68 32.14L632.73 32.54L631.8 32.94L631.6 33.35L631.84 33.75L632.31 34.16L632.85 34.56L633.33 34.96L633.62 35.37L633.64 35.77L633.39 36.17L632.93 36.58L632.38 36.98L631.84 37.38L631.4 37.79L631.08 38.19L630.88 38.59L630.77 39L630.71 39.4L630.67 39.4 Z" fill="#e9946f" stroke="#505050" stroke-width="0.85" stroke-linejoin="round"/>
<path d="M630.67 27.7V39.1" stroke="#505050" stroke-width="0.6"/>
<path d="M630.67 29.9V33.4" stroke="#505050" stroke-width="2.6"/>
<circle cx="630.67" cy="30.5" r="1.05" fill="#fff" stroke="#484848" stroke-width="0.6"/>
<path d="M666.29 26.1L666.02 26.1L665.73 26.5L665.19 26.9L664.31 27.3L662.99 27.7L661.17 28.1L658.95 28.5L656.52 28.9L654.25 29.3L652.53 29.7L651.72 30.1L652 30.5L653.3 30.9L655.34 31.3L657.74 31.7L660.1 32.1L662.14 32.5L663.71 32.9L664.8 33.3L665.5 33.7L665.9 34.1L666.11 34.5L666.21 34.9L666.26 35.3L666.28 35.7L666.29 36.1L666.29 36.5L666.29 36.9L666.29 36.9 Z" fill="#72b6a1" stroke="#505050" stroke-width="0.85" stroke-linejoin="round"/>
<path d="M666.29 26.1L666.33 26.1L666.4 26.5L666.56 26.91L666.91 27.31L667.55 27.72L668.62 28.12L670.21 28.53L672.28 28.93L674.61 29.34L676.76 29.74L678.27 30.15L678.74 30.55L678.06 30.95L676.43 31.36L674.3 31.76L672.17 32.17L670.43 32.57L669.26 32.98L668.68 33.38L668.58 33.79L668.82 34.19L669.26 34.6L669.78 35L670.31 35.4L670.77 35.81L671.1 36.21L671.27 36.62L671.26 37.02L671.07 37.43L670.72 37.83L670.25 38.24L669.69 38.64L669.11 39.05L668.55 39.45L668.03 39.85L667.58 40.26L667.21 40.66L666.92 41.07L666.71 41.47L666.56 41.88L666.46 42.28L666.39 42.69L666.35 43.09L666.32 43.5L666.31 43.9L666.29 43.9 Z" fill="#e9946f" stroke="#505050" stroke-width="0.85" stroke-linejoin="round"/>
<path d="M666.29 26.1V43.9" stroke="#505050" stroke-width="0.6"/>
<path d="M666.29 30.9V37.9" stroke="#505050" stroke-width="2.6"/>
<circle cx="666.29" cy="31.4" r="1.05" fill="#fff" stroke="#484848" stroke-width="0.6"/>
</g>
<rect x="509.4" y="53.3" width="58.6" height="23.9" rx="1.6" fill="#eaeaf2" fill-opacity="0.8" stroke="#ccc" stroke-width="0.7"/>
<rect x="512.5" y="56.95" width="14.4" height="5" fill="#72b6a1" stroke="#505050" stroke-width="0.5"/>
<text x="532.6" y="61.45" font-size="7.12">original</text>
<rect x="512.5" y="67.65" width="14.4" height="5" fill="#e9946f" stroke="#505050" stroke-width="0.5"/>
<text x="532.6" y="72.15" font-size="7.12">generated</text>
<text x="595.05" y="7.7" font-size="8.67" text-anchor="middle">plowland</text>
<text x="595.05" y="104" font-size="8.67" text-anchor="middle">year_label</text>
<text transform="translate(472 45.8) rotate(-90)" font-size="8.67" text-anchor="middle">plowland</text>
</g>
<g>
<rect x="41.45" y="122" width="178.1" height="67.8" fill="#eaeaf2"/>
<clipPath id="c3"><rect x="41.45" y="122" width="178.1" height="67.8"/></clipPath>
<path d="M41.45 125.6H219.55" stroke="#fff" stroke-width="0.8"/>
<text x="34.15" y="128.45" font-size="8.0" text-anchor="end">50</text>
<path d="M41.45 154.8H219.55" stroke="#fff" stroke-width="0.8"/>
<text x="34.15" y="157.65" font-size="8.0" text-anchor="end">40</text>
<path d="M41.45 184.7H219.55" stroke="#fff" stroke-width="0.8"/>
<text x="34.15" y="187.55" font-size="8.0" text-anchor="end">30</text>
<text x="59.26" y="203.3" font-size="8.0" text-anchor="middle">1</text>
<text x="94.88" y="203.3" font-size="8.0" text-anchor="middle">2</text>
<text x="130.5" y="203.3" font-size="8.0" text-anchor="middle">3</text>
<text x="166.12" y="203.3" font-size="8.0" text-anchor="middle">4</text>
<text x="201.74" y="203.3" font-size="8.0" text-anchor="middle">5</text>
<g clip-path="url(#c3)" fill="none">
<path d="M59.26 125.5V175.9" stroke="#505050" stroke-width="1.15"/>
<path d="M59.26 173H73.86" stroke="#484848" stroke-width="1.25"/>
<circle cx="59.26" cy="173" r="1.25" fill="#fff" stroke="#484848" stroke-width="0.6"/>
<path d="M94.88 161L94.88 161L94.94 161.4L95.51 161.8L98.47 162.2L105.06 162.6L109.28 163L105.06 163.4L98.47 163.8L95.51 164.2L94.94 164.6L94.88 165L94.88 165 Z" fill="#e9946f" stroke="#505050" stroke-width="0.85" stroke-linejoin="round"/>
<path d="M94.88 126.5V172.8" stroke="#505050" stroke-width="1.15"/>
<circle cx="94.88" cy="163" r="1.05" fill="#fff" stroke="#484848" stroke-width="0.6"/>
<path d="M130.5 127.7L130.38 127.7L130.37 128.1L130.35 128.5L130.32 128.9L130.3 129.3L130.27 129.7L130.24 130.11L130.2 130.51L130.16 130.91L130.12 131.31L130.07 131.71L130.01 132.11L129.96 132.51L129.89 132.91L129.82 133.31L129.75 133.71L129.66 134.12L129.58 134.52L129.48 134.92L129.38 135.32L129.27 135.72L129.15 136.12L129.03 136.52L128.9 136.92L128.76 137.32L128.62 137.72L128.47 138.12L128.31 138.53L128.15 138.93L127.98 139.33L127.81 139.73L127.63 140.13L127.45 140.53L127.26 140.93L127.08 141.33L126.89 141.73L126.71 142.13L126.52 142.53L126.33 142.94L126.15 143.34L125.98 143.74L125.8 144.14L125.64 144.54L125.48 144.94L125.33 145.34L125.19 145.74L125.06 146.14L124.94 146.54L124.84 146.95L124.75 147.35L124.67 147.75L124.6 148.15L124.55 148.55L124.52 148.95L124.5 149.35L124.5 149.75L124.51 150.15L124.54 150.55L124.59 150.95L124.64 151.36L124.71 151.76L124.8 152.16L124.9 152.56L125.01 152.96L125.13 153.36L125.26 153.76L125.4 154.16L125.55 154.56L125.71 154.96L125.87 155.37L126.04 155.77L126.22 156.17L126.39 156.57L126.57 156.97L126.76 157.37L126.94 157.77L127.12 158.17L127.3 158.57L127.48 158.97L127.66 159.37L127.83 159.78L128 160.18L128.16 160.58L128.32 160.98L128.47 161.38L128.62 161.78L128.76 162.18L128.89 162.58L129.02 162.98L129.14 163.38L129.25 163.78L129.36 164.19L129.46 164.59L129.56 164.99L129.64 165.39L129.73 165.79L129.8 166.19L129.87 166.59L129.94 166.99L129.99 167.39L130.05 167.79L130.1 168.2L130.14 168.6L130.18 169L130.22 169.4L130.25 169.8L130.28 170.2L130.5 170.2 Z" fill="#72b6a1" stroke="#505050" stroke-width="0.85" stroke-linejoin="round"/>
<path d="M130.5 134L130.85 134L131 134.4L131.19 134.79L131.44 135.19L131.75 135.59L132.12 135.99L132.55 136.38L133.04 136.78L133.57 137.18L134.13 137.57L134.69 137.97L135.23 138.37L135.72 138.76L136.14 139.16L136.46 139.56L136.66 139.96L136.74 140.35L136.69 140.75L136.52 141.15L136.26 141.54L135.93 141.94L135.55 142.34L135.15 142.74L134.76 143.13L134.4 143.53L134.08 143.93L133.82 144.32L133.62 144.72L133.48 145.12L133.41 145.51L133.4 145.91L133.46 146.31L133.58 146.71L133.79 147.1L134.07 147.5L134.46 147.9L134.95 148.29L135.56 148.69L136.3 149.09L137.15 149.49L138.11 149.88L139.15 150.28L140.23 150.68L141.32 151.07L142.36 151.47L143.3 151.87L144.08 152.26L144.65 152.66L144.98 153.06L145.03 153.46L144.81 153.85L144.32 154.25L143.59 154.65L142.65 155.04L141.56 155.44L140.37 155.84L139.13 156.24L137.9 156.63L136.72 157.03L135.62 157.43L134.64 157.82L133.77 158.22L133.04 158.62L132.43 159.01L131.94 159.41L131.55 159.81L131.25 160.21L131.03 160.6L130.86 161L130.5 161 Z" fill="#e9946f" stroke="#505050" stroke-width="0.85" stroke-linejoin="round"/>
<path d="M130.5 134V160" stroke="#505050" stroke-width="0.6"/>
<path d="M130.5 143V153.8" stroke="#505050" stroke-width="2.6"/>
<circle cx="130.5" cy="151.6" r="1.05" fill="#fff" stroke="#484848" stroke-width="0.6"/>
<path d="M166.12 127.2L165.92 127.2L165.9 127.6L165.87 128L165.84 128.4L165.81 128.8L165.77 129.2L165.73 129.6L165.69 130L165.64 130.4L165.59 130.8L165.53 131.2L165.47 131.6L165.41 132L165.34 132.4L165.26 132.8L165.18 133.2L165.09 133.6L165 134L164.9 134.4L164.8 134.8L164.69 135.2L164.57 135.6L164.45 136L164.32 136.4L164.18 136.8L164.04 137.2L163.89 137.6L163.74 138L163.58 138.4L163.41 138.8L163.24 139.2L163.07 139.6L162.89 140L162.71 140.4L162.53 140.8L162.34 141.2L162.15 141.6L161.96 142L161.77 142.4L161.57 142.8L161.38 143.2L161.2 143.6L161.01 144L160.83 144.4L160.65 144.8L160.48 145.2L160.31 145.6L160.15 146L160 146.4L159.85 146.8L159.72 147.2L159.6 147.6L159.48 148L159.38 148.4L159.29 148.8L159.21 149.2L159.15 149.6L159.09 150L159.06 150.4L159.03 150.8L159.02 151.2L159.02 151.6L159.04 152L159.07 152.4L159.12 152.8L159.18 153.2L159.25 153.6L159.33 154L159.43 154.4L159.54 154.8L159.66 155.2L159.79 155.6L159.93 156L160.07 156.4L160.23 156.8L160.39 157.2L160.56 157.6L160.74 158L160.92 158.4L161.1 158.8L161.29 159.2L161.48 159.6L161.67 160L161.86 160.4L162.05 160.8L162.24 161.2L162.43 161.6L162.62 162L162.8 162.4L162.98 162.8L163.16 163.2L163.33 163.6L163.5 164L163.66 164.4L163.81 164.8L163.97 165.2L164.11 165.6L164.25 166L164.38 166.4L164.51 166.8L164.63 167.2L164.74 167.6L164.85 168L164.95 168.4L165.05 168.8L165.14 169.2L165.22 169.6L165.3 170L165.37 170.4L165.44 170.8L165.5 171.2L165.56 171.6L165.62 172L165.67 172.4L165.71 172.8L165.75 173.2L165.79 173.6L165.82 174L165.86 174.4L166.12 174.4 Z" fill="#72b6a1" stroke="#505050" stroke-width="0.85" stroke-linejoin="round"/>
<path d="M166.12 132.5L166.44 132.5L166.56 132.9L166.71 133.29L166.91 133.69L167.15 134.09L167.44 134.49L167.78 134.88L168.18 135.28L168.62 135.68L169.11 136.08L169.64 136.47L170.19 136.87L170.74 137.27L171.28 137.67L171.79 138.06L172.26 138.46L172.65 138.86L172.96 139.26L173.19 139.65L173.32 140.05L173.35 140.45L173.3 140.85L173.18 141.24L173 141.64L172.78 142.04L172.55 142.44L172.32 142.83L172.11 143.23L171.95 143.63L171.84 144.03L171.81 144.42L171.85 144.82L171.99 145.22L172.21 145.62L172.54 146.01L172.96 146.41L173.48 146.81L174.09 147.21L174.78 147.6L175.53 148L176.33 148.4L177.15 148.79L177.96 149.19L178.73 149.59L179.43 149.99L180.02 150.38L180.49 150.78L180.79 151.18L180.91 151.58L180.85 151.97L180.59 152.37L180.14 152.77L179.52 153.17L178.76 153.56L177.87 153.96L176.89 154.36L175.85 154.76L174.79 155.15L173.73 155.55L172.7 155.95L171.74 156.35L170.84 156.74L170.03 157.14L169.32 157.54L168.69 157.94L168.16 158.33L167.72 158.73L167.35 159.13L167.06 159.53L166.82 159.92L166.64 160.32L166.5 160.72L166.39 161.12L166.31 161.51L166.25 161.91L166.21 162.31L166.18 162.71L166.16 163.1L166.15 163.5L166.12 163.5 Z" fill="#e9946f" stroke="#505050" stroke-width="0.85" stroke-linejoin="round"/>
<path d="M166.12 132.5V163" stroke="#505050" stroke-width="0.6"/>
<path d="M166.12 142.4V153.3" stroke="#505050" stroke-width="2.6"/>
<circle cx="166.12" cy="150.2" r="1.05" fill="#fff" stroke="#484848" stroke-width="0.6"/>
<path d="M201.74 131.2L201.32 131.2L201.27 131.6L201.21 132L201.15 132.4L201.08 132.8L201 133.2L200.92 133.6L200.83 134L200.73 134.39L200.62 134.79L200.51 135.19L200.38 135.59L200.25 135.99L200.1 136.39L199.95 136.79L199.78 137.19L199.61 137.59L199.42 137.99L199.23 138.39L199.02 138.79L198.8 139.19L198.57 139.59L198.34 139.98L198.09 140.38L197.83 140.78L197.56 141.18L197.29 141.58L197.01 141.98L196.72 142.38L196.42 142.78L196.12 143.18L195.82 143.58L195.51 143.98L195.21 144.38L194.9 144.78L194.59 145.18L194.29 145.57L193.99 145.97L193.7 146.37L193.41 146.77L193.13 147.17L192.87 147.57L192.61 147.97L192.37 148.37L192.14 148.77L191.93 149.17L191.74 149.57L191.56 149.97L191.41 150.37L191.28 150.77L191.16 151.16L191.07 151.56L191.01 151.96L190.96 152.36L190.94 152.76L190.94 153.16L190.95 153.56L190.98 153.96L191.01 154.36L191.05 154.76L191.1 155.16L191.16 155.56L191.23 155.96L191.31 156.36L191.4 156.75L191.5 157.15L191.61 157.55L191.73 157.95L191.85 158.35L191.98 158.75L192.12 159.15L192.26 159.55L192.42 159.95L192.57 160.35L192.74 160.75L192.91 161.15L193.08 161.55L193.26 161.95L193.45 162.34L193.63 162.74L193.82 163.14L194.02 163.54L194.21 163.94L194.41 164.34L194.61 164.74L194.81 165.14L195.01 165.54L195.21 165.94L195.41 166.34L195.61 166.74L195.81 167.14L196.01 167.54L196.21 167.93L196.4 168.33L196.6 168.73L196.79 169.13L196.98 169.53L197.16 169.93L197.34 170.33L197.52 170.73L197.7 171.13L197.87 171.53L198.04 171.93L198.2 172.33L198.36 172.73L198.52 173.13L198.67 173.52L198.82 173.92L198.96 174.32L199.1 174.72L199.23 175.12L199.36 175.52L199.49 175.92L199.61 176.32L199.72 176.72L199.84 177.12L199.94 177.52L200.04 177.92L200.14 178.32L200.24 178.72L200.33 179.11L200.41 179.51L200.49 179.91L200.57 180.31L200.64 180.71L200.71 181.11L200.78 181.51L200.84 181.91L200.9 182.31L200.96 182.71L201.01 183.11L201.06 183.51L201.11 183.91L201.16 184.31L201.2 184.7L201.24 185.1L201.27 185.5L201.31 185.9L201.34 186.3L201.37 186.7L201.4 187.1L201.43 187.5L201.74 187.5 Z" fill="#72b6a1" stroke="#505050" stroke-width="0.85" stroke-linejoin="round"/>
<path d="M201.74 133L202.94 133L203.27 133.4L203.65 133.8L204.11 134.2L204.64 134.6L205.25 135.01L205.93 135.41L206.7 135.81L207.53 136.21L208.42 136.61L209.37 137.01L210.34 137.41L211.33 137.81L212.31 138.21L213.25 138.62L214.13 139.02L214.93 139.42L215.62 139.82L216.18 140.22L216.6 140.62L216.86 141.02L216.96 141.42L216.9 141.82L216.68 142.23L216.32 142.63L215.82 143.03L215.22 143.43L214.54 143.83L213.8 144.23L213.02 144.63L212.23 145.03L211.45 145.43L210.7 145.84L210 146.24L209.36 146.64L208.77 147.04L208.26 147.44L207.82 147.84L207.45 148.24L207.15 148.64L206.91 149.04L206.74 149.45L206.63 149.85L206.58 150.25L206.59 150.65L206.67 151.05L206.81 151.45L207.03 151.85L207.32 152.25L207.69 152.65L208.14 153.05L208.67 153.46L209.27 153.86L209.93 154.26L210.64 154.66L211.39 155.06L212.14 155.46L212.87 155.86L213.55 156.26L214.15 156.66L214.66 157.07L215.03 157.47L215.26 157.87L215.32 158.27L215.21 158.67L214.94 159.07L214.5 159.47L213.91 159.87L213.2 160.27L212.38 160.68L211.49 161.08L210.56 161.48L209.6 161.88L208.65 162.28L207.74 162.68L206.87 163.08L206.07 163.48L205.34 163.88L204.7 164.29L204.13 164.69L203.65 165.09L203.24 165.49L202.91 165.89L202.63 166.29L202.41 166.69L202.24 167.09L202.11 167.49L202.01 167.9L201.93 168.3L201.87 168.7L201.83 169.1L201.8 169.5L201.74 169.5 Z" fill="#e9946f" stroke="#505050" stroke-width="0.85" stroke-linejoin="round"/>
<path d="M201.74 133V169.5" stroke="#505050" stroke-width="0.6"/>
<path d="M201.74 140.5V158.8" stroke="#505050" stroke-width="2.6"/>
<circle cx="201.74" cy="147.5" r="1.05" fill="#fff" stroke="#484848" stroke-width="0.6"/>
</g>
<rect x="44.85" y="125.6" width="58.6" height="23.9" rx="1.6" fill="#eaeaf2" fill-opacity="0.8" stroke="#ccc" stroke-width="0.7"/>
<rect x="47.95" y="129.25" width="14.4" height="5" fill="#72b6a1" stroke="#505050" stroke-width="0.5"/>
<text x="68.05" y="133.75" font-size="7.12">original</text>
<rect x="47.95" y="139.95" width="14.4" height="5" fill="#e9946f" stroke="#505050" stroke-width="0.5"/>
<text x="68.05" y="144.45" font-size="7.12">generated</text>
<text x="130.5" y="117.15" font-size="8.67" text-anchor="middle">crop_price</text>
<text x="130.5" y="214.1" font-size="8.67" text-anchor="middle">year_label</text>
<text transform="translate(20.45 155.9) rotate(-90)" font-size="8.67" text-anchor="middle">crop_price</text>
</g>
<g>
<rect x="273.7" y="122" width="178.1" height="67.8" fill="#eaeaf2"/>
<clipPath id="c4"><rect x="273.7" y="122" width="178.1" height="67.8"/></clipPath>
<path d="M273.7 124.1H451.8" stroke="#fff" stroke-width="0.8"/>
<text x="266.4" y="126.95" font-size="8.0" text-anchor="end">60</text>
<path d="M273.7 145.15H451.8" stroke="#fff" stroke-width="0.8"/>
<text x="266.4" y="148" font-size="8.0" text-anchor="end">40</text>
<path d="M273.7 166.2H451.8" stroke="#fff" stroke-width="0.8"/>
<text x="266.4" y="169.05" font-size="8.0" text-anchor="end">20</text>
<path d="M273.7 187.3H451.8" stroke="#fff" stroke-width="0.8"/>
<text x="266.4" y="190.15" font-size="8.0" text-anchor="end">0</text>
<text x="291.51" y="203.3" font-size="8.0" text-anchor="middle">1</text>
<text x="327.13" y="203.3" font-size="8.0" text-anchor="middle">2</text>
<text x="362.75" y="203.3" font-size="8.0" text-anchor="middle">3</text>
<text x="398.37" y="203.3" font-size="8.0" text-anchor="middle">4</text>
<text x="433.99" y="203.3" font-size="8.0" text-anchor="middle">5</text>
<g clip-path="url(#c4)" fill="none">
<path d="M291.51 123.4V187.9" stroke="#505050" stroke-width="1.15"/>
<path d="M291.51 155.3H306.11" stroke="#484848" stroke-width="1.25"/>
<circle cx="291.51" cy="155.3" r="1.25" fill="#fff" stroke="#484848" stroke-width="0.6"/>
<path d="M327.13 125.4V187.3" stroke="#505050" stroke-width="1.15"/>
<path d="M327.13 170.2H341.73" stroke="#484848" stroke-width="1.25"/>
<circle cx="327.13" cy="170.2" r="1.25" fill="#fff" stroke="#484848" stroke-width="0.6"/>
<path d="M362.75 126.4L362.7 126.4L362.69 126.8L362.68 127.2L362.67 127.6L362.67 127.99L362.65 128.39L362.64 128.79L362.63 129.19L362.62 129.59L362.6 129.99L362.58 130.39L362.57 130.79L362.55 131.18L362.52 131.58L362.5 131.98L362.47 132.38L362.44 132.78L362.41 133.18L362.38 133.58L362.34 133.97L362.3 134.37L362.26 134.77L362.21 135.17L362.17 135.57L362.11 135.97L362.06 136.37L362 136.76L361.93 137.16L361.87 137.56L361.79 137.96L361.72 138.36L361.64 138.76L361.55 139.16L361.47 139.56L361.37 139.95L361.28 140.35L361.17 140.75L361.07 141.15L360.96 141.55L360.84 141.95L360.72 142.35L360.6 142.74L360.47 143.14L360.34 143.54L360.21 143.94L360.07 144.34L359.93 144.74L359.79 145.14L359.65 145.54L359.5 145.93L359.35 146.33L359.2 146.73L359.05 147.13L358.9 147.53L358.75 147.93L358.61 148.33L358.46 148.72L358.31 149.12L358.17 149.52L358.03 149.92L357.89 150.32L357.76 150.72L357.63 151.12L357.51 151.51L357.39 151.91L357.28 152.31L357.17 152.71L357.07 153.11L356.98 153.51L356.9 153.91L356.82 154.31L356.76 154.7L356.7 155.1L356.65 155.5L356.61 155.9L356.58 156.3L356.56 156.7L356.55 157.1L356.55 157.49L356.56 157.89L356.58 158.29L356.62 158.69L356.66 159.09L356.71 159.49L356.78 159.89L356.85 160.29L356.93 160.68L357.02 161.08L357.12 161.48L357.23 161.88L357.35 162.28L357.47 162.68L357.6 163.08L357.73 163.47L357.87 163.87L358.01 164.27L358.16 164.67L358.31 165.07L358.47 165.47L358.62 165.87L358.78 166.26L358.94 166.66L359.09 167.06L359.25 167.46L359.41 167.86L359.56 168.26L359.72 168.66L359.87 169.06L360.01 169.45L360.16 169.85L360.3 170.25L360.44 170.65L360.57 171.05L360.7 171.45L360.83 171.85L360.95 172.24L361.07 172.64L361.18 173.04L361.29 173.44L361.39 173.84L361.48 174.24L361.58 174.64L361.66 175.04L361.75 175.43L361.83 175.83L361.9 176.23L361.97 176.63L362.03 177.03L362.09 177.43L362.15 177.83L362.2 178.22L362.25 178.62L362.3 179.02L362.34 179.42L362.38 179.82L362.41 180.22L362.44 180.62L362.48 181.01L362.5 181.41L362.53 181.81L362.55 182.21L362.57 182.61L362.59 183.01L362.61 183.41L362.62 183.81L362.64 184.2L362.65 184.6L362.66 185L362.67 185.4L362.75 185.4 Z" fill="#72b6a1" stroke="#505050" stroke-width="0.85" stroke-linejoin="round"/>
<path d="M362.75 132.5L363.2 132.5L363.36 132.9L363.57 133.3L363.83 133.71L364.14 134.11L364.51 134.51L364.94 134.91L365.42 135.32L365.96 135.72L366.53 136.12L367.13 136.52L367.73 136.92L368.32 137.33L368.86 137.73L369.34 138.13L369.73 138.53L370.02 138.93L370.18 139.34L370.22 139.74L370.13 140.14L369.92 140.54L369.59 140.95L369.18 141.35L368.7 141.75L368.18 142.15L367.64 142.55L367.1 142.96L366.59 143.36L366.11 143.76L365.69 144.16L365.33 144.57L365.03 144.97L364.79 145.37L364.61 145.77L364.48 146.17L364.39 146.58L364.34 146.98L364.31 147.38L364.3 147.78L364.3 148.18L364.31 148.59L364.31 148.99L364.31 149.39L364.31 149.79L364.31 150.2L364.3 150.6L364.3 151L364.31 151.4L364.33 151.8L364.38 152.21L364.46 152.61L364.6 153.01L364.79 153.41L365.05 153.82L365.4 154.22L365.84 154.62L366.39 155.02L367.05 155.42L367.82 155.83L368.69 156.23L369.65 156.63L370.68 157.03L371.75 157.43L372.84 157.84L373.9 158.24L374.89 158.64L375.78 159.04L376.52 159.45L377.09 159.85L377.44 160.25L377.58 160.65L377.48 161.05L377.16 161.46L376.62 161.86L375.9 162.26L375.02 162.66L374.02 163.07L372.94 163.47L371.81 163.87L370.69 164.27L369.6 164.67L368.56 165.08L367.6 165.48L366.74 165.88L365.98 166.28L365.32 166.68L364.77 167.09L364.31 167.49L363.93 167.89L363.64 168.29L363.4 168.7L363.22 169.1L363.09 169.5L362.75 169.5 Z" fill="#e9946f" stroke="#505050" stroke-width="0.85" stroke-linejoin="round"/>
<path d="M362.75 132.5V169" stroke="#505050" stroke-width="0.6"/>
<path d="M362.75 139.5V161.6" stroke="#505050" stroke-width="2.6"/>
<circle cx="362.75" cy="159.3" r="1.05" fill="#fff" stroke="#484848" stroke-width="0.6"/>
<path d="M398.37 127.2L398.09 127.2L398.06 127.6L398.03 128L398 128.4L397.97 128.8L397.93 129.2L397.89 129.6L397.85 130.01L397.8 130.41L397.75 130.81L397.7 131.21L397.64 131.61L397.58 132.01L397.52 132.41L397.45 132.81L397.38 133.21L397.31 133.61L397.23 134.01L397.14 134.41L397.05 134.81L396.96 135.21L396.86 135.62L396.75 136.02L396.64 136.42L396.53 136.82L396.41 137.22L396.28 137.62L396.15 138.02L396.01 138.42L395.87 138.82L395.72 139.22L395.57 139.62L395.41 140.02L395.25 140.42L395.08 140.82L394.91 141.23L394.73 141.63L394.55 142.03L394.37 142.43L394.18 142.83L393.98 143.23L393.79 143.63L393.59 144.03L393.38 144.43L393.18 144.83L392.97 145.23L392.76 145.63L392.56 146.03L392.35 146.44L392.14 146.84L391.93 147.24L391.72 147.64L391.52 148.04L391.31 148.44L391.11 148.84L390.91 149.24L390.72 149.64L390.53 150.04L390.35 150.44L390.17 150.84L390 151.24L389.83 151.64L389.67 152.05L389.52 152.45L389.38 152.85L389.25 153.25L389.12 153.65L389.01 154.05L388.91 154.45L388.81 154.85L388.73 155.25L388.66 155.65L388.6 156.05L388.55 156.45L388.51 156.85L388.49 157.25L388.47 157.66L388.47 158.06L388.49 158.46L388.53 158.86L388.6 159.26L388.68 159.66L388.78 160.06L388.91 160.46L389.05 160.86L389.21 161.26L389.39 161.66L389.59 162.06L389.8 162.46L390.02 162.86L390.26 163.27L390.51 163.67L390.76 164.07L391.03 164.47L391.3 164.87L391.57 165.27L391.85 165.67L392.13 166.07L392.42 166.47L392.7 166.87L392.98 167.27L393.26 167.67L393.53 168.07L393.8 168.48L394.07 168.88L394.33 169.28L394.58 169.68L394.82 170.08L395.06 170.48L395.28 170.88L395.5 171.28L395.71 171.68L395.91 172.08L396.1 172.48L396.28 172.88L396.45 173.28L396.6 173.68L396.75 174.09L396.89 174.49L397.03 174.89L397.15 175.29L397.26 175.69L397.37 176.09L397.46 176.49L397.55 176.89L397.64 177.29L397.71 177.69L397.78 178.09L397.84 178.49L397.9 178.89L397.95 179.29L398 179.7L398.04 180.1L398.08 180.5L398.12 180.9L398.15 181.3L398.17 181.7L398.2 182.1L398.37 182.1 Z" fill="#72b6a1" stroke="#505050" stroke-width="0.85" stroke-linejoin="round"/>
<path d="M398.37 130.5L398.74 130.5L398.87 130.9L399.02 131.3L399.21 131.7L399.45 132.1L399.73 132.5L400.06 132.9L400.45 133.3L400.89 133.7L401.39 134.1L401.94 134.5L402.53 134.9L403.16 135.3L403.81 135.7L404.47 136.1L405.12 136.5L405.75 136.9L406.33 137.3L406.85 137.7L407.29 138.1L407.62 138.5L407.86 138.9L407.97 139.3L407.97 139.7L407.85 140.1L407.62 140.5L407.29 140.9L406.88 141.3L406.4 141.7L405.88 142.1L405.32 142.5L404.76 142.9L404.2 143.3L403.67 143.7L403.17 144.1L402.72 144.5L402.33 144.9L401.98 145.3L401.69 145.7L401.46 146.1L401.28 146.5L401.14 146.9L401.04 147.3L400.98 147.7L400.94 148.1L400.94 148.5L400.97 148.9L401.02 149.3L401.11 149.7L401.23 150.1L401.39 150.5L401.6 150.9L401.86 151.3L402.19 151.7L402.58 152.1L403.06 152.5L403.61 152.9L404.24 153.3L404.94 153.7L405.71 154.1L406.54 154.5L407.41 154.9L408.3 155.3L409.18 155.7L410.03 156.1L410.83 156.5L411.54 156.9L412.14 157.3L412.61 157.7L412.93 158.1L413.08 158.5L413.07 158.9L412.88 159.3L412.53 159.7L412.03 160.1L411.41 160.5L410.68 160.9L409.88 161.3L409.04 161.7L408.19 162.1L407.36 162.5L406.57 162.9L405.86 163.3L405.23 163.7L404.72 164.1L404.31 164.5L404.02 164.9L403.83 165.3L403.73 165.7L403.71 166.1L403.74 166.5L403.8 166.9L403.88 167.3L403.93 167.7L403.95 168.1L403.92 168.5L403.82 168.9L403.66 169.3L403.43 169.7L403.13 170.1L402.78 170.5L402.39 170.9L401.97 171.3L401.55 171.7L401.12 172.1L400.71 172.5L400.33 172.9L399.98 173.3L399.67 173.7L399.4 174.1L399.17 174.5L398.99 174.9L398.83 175.3L398.71 175.7L398.62 176.1L398.55 176.5L398.37 176.5 Z" fill="#e9946f" stroke="#505050" stroke-width="0.85" stroke-linejoin="round"/>
<path d="M398.37 130.5V176.2" stroke="#505050" stroke-width="0.6"/>
<path d="M398.37 141.5V160.7" stroke="#505050" stroke-width="2.6"/>
<circle cx="398.37" cy="158.5" r="1.05" fill="#fff" stroke="#484848" stroke-width="0.6"/>
<path d="M433.99 126.4L433.66 126.4L433.62 126.8L433.59 127.2L433.55 127.6L433.51 128L433.47 128.4L433.43 128.8L433.38 129.21L433.33 129.61L433.27 130.01L433.21 130.41L433.15 130.81L433.08 131.21L433.01 131.61L432.93 132.01L432.85 132.41L432.76 132.81L432.67 133.21L432.58 133.61L432.47 134.01L432.37 134.41L432.25 134.82L432.13 135.22L432.01 135.62L431.88 136.02L431.74 136.42L431.6 136.82L431.45 137.22L431.29 137.62L431.13 138.02L430.96 138.42L430.79 138.82L430.61 139.22L430.42 139.62L430.23 140.02L430.03 140.43L429.82 140.83L429.61 141.23L429.39 141.63L429.17 142.03L428.94 142.43L428.71 142.83L428.47 143.23L428.23 143.63L427.99 144.03L427.74 144.43L427.49 144.83L427.23 145.23L426.98 145.63L426.72 146.04L426.46 146.44L426.2 146.84L425.94 147.24L425.69 147.64L425.43 148.04L425.17 148.44L424.92 148.84L424.67 149.24L424.42 149.64L424.18 150.04L423.95 150.44L423.72 150.84L423.49 151.24L423.27 151.65L423.06 152.05L422.86 152.45L422.67 152.85L422.49 153.25L422.32 153.65L422.15 154.05L422 154.45L421.86 154.85L421.74 155.25L421.62 155.65L421.52 156.05L421.43 156.45L421.36 156.85L421.3 157.26L421.25 157.66L421.21 158.06L421.2 158.46L421.19 158.86L421.21 159.26L421.26 159.66L421.33 160.06L421.43 160.46L421.56 160.86L421.72 161.26L421.9 161.66L422.1 162.06L422.33 162.46L422.57 162.87L422.84 163.27L423.13 163.67L423.43 164.07L423.74 164.47L424.07 164.87L424.41 165.27L424.76 165.67L425.11 166.07L425.47 166.47L425.84 166.87L426.2 167.27L426.57 167.67L426.93 168.07L427.29 168.48L427.65 168.88L428 169.28L428.35 169.68L428.68 170.08L429.01 170.48L429.33 170.88L429.63 171.28L429.93 171.68L430.21 172.08L430.49 172.48L430.75 172.88L430.99 173.28L431.23 173.68L431.45 174.09L431.66 174.49L431.85 174.89L432.04 175.29L432.21 175.69L432.37 176.09L432.52 176.49L432.66 176.89L432.79 177.29L432.91 177.69L433.02 178.09L433.12 178.49L433.21 178.89L433.29 179.29L433.37 179.7L433.44 180.1L433.5 180.5L433.55 180.9L433.6 181.3L433.65 181.7L433.69 182.1L433.99 182.1 Z" fill="#72b6a1" stroke="#505050" stroke-width="0.85" stroke-linejoin="round"/>
<path d="M433.99 130.5L434.97 130.5L435.2 130.9L435.47 131.3L435.79 131.7L436.16 132.11L436.59 132.51L437.07 132.91L437.6 133.31L438.2 133.71L438.84 134.11L439.54 134.52L440.29 134.92L441.07 135.32L441.88 135.72L442.71 136.12L443.55 136.52L444.37 136.93L445.17 137.33L445.93 137.73L446.63 138.13L447.26 138.53L447.8 138.93L448.24 139.34L448.58 139.74L448.79 140.14L448.89 140.54L448.87 140.94L448.72 141.34L448.46 141.75L448.1 142.15L447.64 142.55L447.09 142.95L446.49 143.35L445.83 143.75L445.13 144.16L444.41 144.56L443.69 144.96L442.98 145.36L442.3 145.76L441.64 146.16L441.03 146.57L440.47 146.97L439.96 147.37L439.51 147.77L439.12 148.17L438.78 148.57L438.49 148.98L438.26 149.38L438.07 149.78L437.92 150.18L437.81 150.58L437.74 150.98L437.68 151.39L437.65 151.79L437.63 152.19L437.63 152.59L437.63 152.99L437.64 153.39L437.65 153.8L437.65 154.2L437.66 154.6L437.66 155L437.65 155.4L437.65 155.8L437.63 156.2L437.61 156.61L437.59 157.01L437.57 157.41L437.56 157.81L437.54 158.21L437.54 158.61L437.55 159.02L437.58 159.42L437.64 159.82L437.73 160.22L437.85 160.62L438.01 161.02L438.23 161.43L438.49 161.83L438.82 162.23L439.2 162.63L439.65 163.03L440.17 163.43L440.74 163.84L441.37 164.24L442.05 164.64L442.77 165.04L443.52 165.44L444.29 165.84L445.05 166.25L445.8 166.65L446.51 167.05L447.16 167.45L447.74 167.85L448.22 168.25L448.6 168.66L448.86 169.06L448.99 169.46L448.99 169.86L448.85 170.26L448.58 170.66L448.19 171.07L447.67 171.47L447.06 171.87L446.35 172.27L445.57 172.67L444.74 173.07L443.88 173.48L443 173.88L442.12 174.28L441.25 174.68L440.42 175.08L439.63 175.48L438.89 175.89L438.2 176.29L437.58 176.69L437.02 177.09L436.53 177.49L436.09 177.89L435.71 178.3L435.39 178.7L435.12 179.1L434.89 179.5L433.99 179.5 Z" fill="#e9946f" stroke="#505050" stroke-width="0.85" stroke-linejoin="round"/>
<path d="M433.99 130.5V179" stroke="#505050" stroke-width="0.6"/>
<path d="M433.99 139.6V171.6" stroke="#505050" stroke-width="2.6"/>
<circle cx="433.99" cy="152.4" r="1.05" fill="#fff" stroke="#484848" stroke-width="0.6"/>
</g>
<rect x="277.1" y="125.6" width="58.6" height="23.9" rx="1.6" fill="#eaeaf2" fill-opacity="0.8" stroke="#ccc" stroke-width="0.7"/>
<rect x="280.2" y="129.25" width="14.4" height="5" fill="#72b6a1" stroke="#505050" stroke-width="0.5"/>
<text x="300.3" y="133.75" font-size="7.12">original</text>
<rect x="280.2" y="139.95" width="14.4" height="5" fill="#e9946f" stroke="#505050" stroke-width="0.5"/>
<text x="300.3" y="144.45" font-size="7.12">generated</text>
<text x="362.75" y="117.15" font-size="8.67" text-anchor="middle">ET</text>
<text x="362.75" y="214.1" font-size="8.67" text-anchor="middle">year_label</text>
<text transform="translate(254.1 155.9) rotate(-90)" font-size="8.67" text-anchor="middle">ET</text>
</g>
<g>
<rect x="506" y="122" width="178.1" height="67.8" fill="#eaeaf2"/>
<clipPath id="c5"><rect x="506" y="122" width="178.1" height="67.8"/></clipPath>
<path d="M506 131.9H684.1" stroke="#fff" stroke-width="0.8"/>
<text x="498.7" y="134.75" font-size="8.0" text-anchor="end">4</text>
<path d="M506 149.1H684.1" stroke="#fff" stroke-width="0.8"/>
<text x="498.7" y="151.95" font-size="8.0" text-anchor="end">3</text>
<path d="M506 166.25H684.1" stroke="#fff" stroke-width="0.8"/>
<text x="498.7" y="169.1" font-size="8.0" text-anchor="end">2</text>
<path d="M506 183.5H684.1" stroke="#fff" stroke-width="0.8"/>
<text x="498.7" y="186.35" font-size="8.0" text-anchor="end">1</text>
<text x="523.81" y="203.3" font-size="8.0" text-anchor="middle">1</text>
<text x="559.43" y="203.3" font-size="8.0" text-anchor="middle">2</text>
<text x="595.05" y="203.3" font-size="8.0" text-anchor="middle">3</text>
<text x="630.67" y="203.3" font-size="8.0" text-anchor="middle">4</text>
<text x="666.29" y="203.3" font-size="8.0" text-anchor="middle">5</text>
<g clip-path="url(#c5)" fill="none">
<path d="M523.81 124.1V187.8" stroke="#505050" stroke-width="1.15"/>
<path d="M523.81 138.5H538.41" stroke="#484848" stroke-width="1.25"/>
<circle cx="523.81" cy="138.5" r="1.25" fill="#fff" stroke="#484848" stroke-width="0.6"/>
<path d="M559.43 126.1V178.8" stroke="#505050" stroke-width="1.15"/>
<path d="M559.43 140.9H574.03" stroke="#484848" stroke-width="1.25"/>
<circle cx="559.43" cy="140.9" r="1.25" fill="#fff" stroke="#484848" stroke-width="0.6"/>
<path d="M595.05 139.5L595.15 139.5L595.41 139.9L595.93 140.3L596.6 140.7L597.03 141.1L596.87 141.5L596.26 141.9L595.63 142.3L595.25 142.7L595.1 143.1L595.06 143.5L595.05 143.5 Z" fill="#e9946f" stroke="#505050" stroke-width="0.85" stroke-linejoin="round"/>
<path d="M595.05 129.6V171.1" stroke="#505050" stroke-width="1.15"/>
<path d="M595.05 140.2H609.65" stroke="#484848" stroke-width="1.25"/>
<circle cx="595.05" cy="140.4" r="1.1" fill="#fff" stroke="#484848" stroke-width="0.6"/>
<path d="M630.67 134.5L630.63 134.5L630.6 134.9L630.55 135.31L630.47 135.71L630.34 136.11L630.16 136.52L629.89 136.92L629.52 137.32L629.02 137.73L628.37 138.13L627.55 138.53L626.55 138.94L625.38 139.34L624.07 139.74L622.67 140.15L621.24 140.55L619.86 140.95L618.62 141.35L617.62 141.76L616.92 142.16L616.59 142.56L617.12 142.97L619.68 143.37L623.23 143.77L626.46 144.18L628.68 144.58L629.89 144.98L630.41 145.39L630.6 145.79L630.65 146.19L630.67 146.6L630.67 147L630.67 147 Z" fill="#72b6a1" stroke="#505050" stroke-width="0.85" stroke-linejoin="round"/>
<path d="M630.67 134.5L630.91 134.5L631.05 134.9L631.24 135.3L631.5 135.7L631.85 136.1L632.29 136.51L632.82 136.91L633.46 137.31L634.17 137.71L634.92 138.11L635.69 138.51L636.42 138.91L637.06 139.31L637.56 139.71L637.87 140.12L637.97 140.52L637.85 140.92L637.52 141.32L637.01 141.72L636.36 142.12L635.63 142.52L634.86 142.92L634.1 143.32L633.4 143.73L632.77 144.13L632.24 144.53L631.81 144.93L631.47 145.33L631.22 145.73L631.03 146.13L630.9 146.53L630.82 146.94L630.76 147.34L630.72 147.74L630.7 148.14L630.69 148.54L630.68 148.94L630.67 149.34L630.67 149.74L630.67 150.14L630.67 150.55L630.67 150.95L630.67 151.35L630.67 151.75L630.67 152.15L630.67 152.55L630.67 152.95L630.67 153.35L630.67 153.75L630.67 154.16L630.68 154.56L630.68 154.96L630.69 155.36L630.7 155.76L630.73 156.16L630.75 156.56L630.8 156.96L630.85 157.36L630.93 157.77L631.02 158.17L631.14 158.57L631.28 158.97L631.44 159.37L631.61 159.77L631.79 160.17L631.97 160.57L632.14 160.98L632.28 161.38L632.39 161.78L632.45 162.18L632.47 162.58L632.43 162.98L632.35 163.38L632.23 163.78L632.08 164.18L631.9 164.59L631.72 164.99L631.54 165.39L631.37 165.79L631.22 166.19L631.09 166.59L630.98 166.99L630.9 167.39L630.83 167.79L630.78 168.2L630.74 168.6L630.72 169L630.7 169.4L630.69 169.8L630.67 169.8 Z" fill="#e9946f" stroke="#505050" stroke-width="0.85" stroke-linejoin="round"/>
<path d="M630.67 134.5V169.8" stroke="#505050" stroke-width="0.6"/>
<path d="M630.67 139.6V150.6" stroke="#505050" stroke-width="2.6"/>
<circle cx="630.67" cy="141.5" r="1.05" fill="#fff" stroke="#484848" stroke-width="0.6"/>
<path d="M666.29 132.3L666.24 132.3L666.21 132.7L666.17 133.11L666.11 133.51L666.02 133.91L665.9 134.31L665.74 134.72L665.52 135.12L665.24 135.52L664.87 135.92L664.41 136.33L663.85 136.73L663.17 137.13L662.37 137.53L661.46 137.94L660.45 138.34L659.35 138.74L658.19 139.14L657 139.55L655.83 139.95L654.73 140.35L653.73 140.75L652.89 141.16L652.25 141.56L651.85 141.96L651.69 142.36L652.41 142.77L654.62 143.17L657.6 143.57L660.57 143.97L662.96 144.38L664.57 144.78L665.51 145.18L665.97 145.58L666.18 145.99L666.25 146.39L666.28 146.79L666.29 147.19L666.29 147.6L666.29 148L666.29 148 Z" fill="#72b6a1" stroke="#505050" stroke-width="0.85" stroke-linejoin="round"/>
<path d="M666.29 132.3L666.3 132.3L666.31 132.7L666.32 133.1L666.34 133.5L666.37 133.9L666.42 134.31L666.49 134.71L666.58 135.11L666.71 135.51L666.88 135.91L667.11 136.31L667.39 136.71L667.73 137.11L668.14 137.51L668.61 137.91L669.12 138.32L669.67 138.72L670.23 139.12L670.78 139.52L671.28 139.92L671.7 140.32L672.03 140.72L672.23 141.12L672.29 141.52L672.21 141.92L672 142.33L671.66 142.73L671.22 143.13L670.72 143.53L670.17 143.93L669.61 144.33L669.06 144.73L668.55 145.13L668.09 145.53L667.69 145.93L667.35 146.34L667.08 146.74L666.86 147.14L666.69 147.54L666.57 147.94L666.48 148.34L666.41 148.74L666.37 149.14L666.34 149.54L666.32 149.94L666.31 150.35L666.3 150.75L666.3 151.15L666.29 151.55L666.29 151.95L666.29 152.35L666.29 152.75L666.29 153.15L666.29 153.55L666.29 153.96L666.3 154.36L666.3 154.76L666.31 155.16L666.32 155.56L666.34 155.96L666.37 156.36L666.42 156.76L666.48 157.16L666.57 157.56L666.69 157.97L666.84 158.37L667.04 158.77L667.29 159.17L667.59 159.57L667.95 159.97L668.34 160.37L668.78 160.77L669.23 161.17L669.69 161.57L670.12 161.98L670.51 162.38L670.83 162.78L671.05 163.18L671.17 163.58L671.18 163.98L671.07 164.38L670.85 164.78L670.54 165.18L670.16 165.58L669.73 165.99L669.28 166.39L668.82 166.79L668.39 167.19L667.98 167.59L667.63 167.99L667.32 168.39L667.07 168.79L666.86 169.19L666.7 169.59L666.58 170L666.49 170.4L666.42 170.8L666.38 171.2L666.34 171.6L666.29 171.6 Z" fill="#e9946f" stroke="#505050" stroke-width="0.85" stroke-linejoin="round"/>
<path d="M666.29 132.3V171.6" stroke="#505050" stroke-width="0.6"/>
<path d="M666.29 141.5V164.3" stroke="#505050" stroke-width="2.6"/>
<circle cx="666.29" cy="143.3" r="1.05" fill="#fff" stroke="#484848" stroke-width="0.6"/>
</g>
<rect x="509.4" y="163.4" width="58.6" height="23.9" rx="1.6" fill="#eaeaf2" fill-opacity="0.8" stroke="#ccc" stroke-width="0.7"/>
<rect x="512.5" y="167.05" width="14.4" height="5" fill="#72b6a1" stroke="#505050" stroke-width="0.5"/>
<text x="532.6" y="171.55" font-size="7.12">original</text>
<rect x="512.5" y="177.75" width="14.4" height="5" fill="#e9946f" stroke="#505050" stroke-width="0.5"/>
<text x="532.6" y="182.25" font-size="7.12">generated</text>
<text x="595.05" y="117.15" font-size="8.67" text-anchor="middle">crop water requirement</text>
<text x="595.05" y="214.1" font-size="8.67" text-anchor="middle">year_label</text>
<text transform="translate(489.1 155.9) rotate(-90)" font-size="8.67" text-anchor="middle">crop water requirement</text>
<text x="506.6" y="120.1" font-size="7.7">1e8</text>
</g>
<g>
<rect x="41.45" y="231.9" width="178.1" height="67.8" fill="#eaeaf2"/>
<clipPath id="c6"><rect x="41.45" y="231.9" width="178.1" height="67.8"/></clipPath>
<path d="M41.45 248.3H219.55" stroke="#fff" stroke-width="0.8"/>
<text x="34.15" y="251.15" font-size="8.0" text-anchor="end">30000</text>
<path d="M41.45 274H219.55" stroke="#fff" stroke-width="0.8"/>
<text x="34.15" y="276.85" font-size="8.0" text-anchor="end">20000</text>
<text x="59.26" y="313.2" font-size="8.0" text-anchor="middle">1</text>
<text x="94.88" y="313.2" font-size="8.0" text-anchor="middle">2</text>
<text x="130.5" y="313.2" font-size="8.0" text-anchor="middle">3</text>
<text x="166.12" y="313.2" font-size="8.0" text-anchor="middle">4</text>
<text x="201.74" y="313.2" font-size="8.0" text-anchor="middle">5</text>
<g clip-path="url(#c6)" fill="none">
<path d="M59.26 234.1V297.8" stroke="#505050" stroke-width="1.15"/>
<path d="M59.26 247H73.86" stroke="#484848" stroke-width="1.25"/>
<circle cx="59.26" cy="247" r="1.25" fill="#fff" stroke="#484848" stroke-width="0.6"/>
<path d="M94.88 234.5V288.2" stroke="#505050" stroke-width="1.15"/>
<path d="M94.88 249.9H109.48" stroke="#484848" stroke-width="1.25"/>
<circle cx="94.88" cy="249.9" r="1.25" fill="#fff" stroke="#484848" stroke-width="0.6"/>
<path d="M130.5 247.4L130.5 247.4L130.51 247.79L130.73 248.19L132.71 248.58L139.33 248.98L145.07 249.37L140.44 249.77L133.35 250.16L131.02 250.56L131.13 250.95L131.93 251.35L132.92 251.74L133.49 252.14L133.18 252.53L132.25 252.93L131.33 253.32L130.79 253.72L130.57 254.11L130.51 254.51L130.5 254.9L130.5 254.9 Z" fill="#e9946f" stroke="#505050" stroke-width="0.85" stroke-linejoin="round"/>
<path d="M130.5 237.2V280.7" stroke="#505050" stroke-width="0.9"/>
<circle cx="130.5" cy="249.5" r="1.05" fill="#fff" stroke="#484848" stroke-width="0.6"/>
<path d="M166.12 243.3L165.34 243.3L165.12 243.7L164.86 244.1L164.54 244.5L164.17 244.9L163.73 245.3L163.22 245.7L162.65 246.1L162.02 246.5L161.31 246.9L160.55 247.3L159.74 247.7L158.9 248.1L158.03 248.5L157.16 248.9L156.3 249.3L155.48 249.7L154.71 250.1L154.03 250.5L153.45 250.9L152.98 251.3L152.65 251.7L152.46 252.1L152.43 252.5L152.77 252.9L153.52 253.3L154.61 253.7L155.96 254.1L157.43 254.5L158.94 254.9L160.37 255.3L161.67 255.7L162.79 256.1L163.71 256.5L164.43 256.9L164.97 257.3L165.37 257.7L165.64 258.1L165.83 258.5L165.95 258.9L166.02 259.3L166.06 259.7L166.09 260.1L166.1 260.5L166.11 260.9L166.12 260.9 Z" fill="#72b6a1" stroke="#505050" stroke-width="0.85" stroke-linejoin="round"/>
<path d="M166.12 243.3L166.74 243.3L166.96 243.7L167.25 244.1L167.61 244.5L168.05 244.9L168.57 245.3L169.18 245.7L169.87 246.1L170.64 246.5L171.47 246.9L172.35 247.3L173.24 247.7L174.11 248.1L174.93 248.5L175.66 248.9L176.27 249.3L176.74 249.7L177.02 250.1L177.12 250.5L177.02 250.9L176.74 251.3L176.27 251.7L175.66 252.1L174.93 252.5L174.11 252.9L173.24 253.3L172.35 253.7L171.47 254.1L170.64 254.5L169.87 254.9L169.18 255.3L168.57 255.7L168.05 256.1L167.61 256.5L167.25 256.9L166.96 257.3L166.74 257.7L166.56 258.1L166.43 258.5L166.34 258.9L166.27 259.3L166.22 259.7L166.19 260.1L166.16 260.5L166.15 260.9L166.14 261.3L166.14 261.7L166.14 262.1L166.14 262.5L166.15 262.9L166.16 263.3L166.17 263.7L166.2 264.1L166.23 264.5L166.28 264.9L166.34 265.3L166.42 265.7L166.52 266.1L166.65 266.5L166.8 266.9L166.98 267.3L167.19 267.7L167.42 268.1L167.66 268.5L167.93 268.9L168.19 269.3L168.46 269.7L168.7 270.1L168.92 270.5L169.1 270.9L169.23 271.3L169.3 271.7L169.32 272.1L169.27 272.5L169.17 272.9L169.01 273.3L168.81 273.7L168.58 274.1L168.33 274.5L168.06 274.9L167.79 275.3L167.54 275.7L167.3 276.1L167.08 276.5L166.89 276.9L166.72 277.3L166.58 277.7L166.47 278.1L166.38 278.5L166.31 278.9L166.12 278.9 Z" fill="#e9946f" stroke="#505050" stroke-width="0.85" stroke-linejoin="round"/>
<path d="M166.12 242.3V278.9" stroke="#505050" stroke-width="0.6"/>
<path d="M166.12 248.7V261.5" stroke="#505050" stroke-width="2.6"/>
<circle cx="166.12" cy="250.5" r="1.05" fill="#fff" stroke="#484848" stroke-width="0.6"/>
<path d="M201.74 241.4L201.29 241.4L201.07 241.8L200.76 242.21L200.36 242.61L199.85 243.02L199.23 243.42L198.51 243.83L197.7 244.23L196.83 244.63L195.95 245.04L195.09 245.44L194.31 245.85L193.64 246.25L193.1 246.66L192.7 247.06L192.43 247.46L192.25 247.87L192.12 248.27L191.97 248.68L191.75 249.08L191.45 249.49L191.03 249.89L190.51 250.29L189.93 250.7L189.34 251.1L188.81 251.51L188.41 251.91L188.2 252.31L188.22 252.72L188.61 253.12L189.4 253.53L190.55 253.93L191.95 254.34L193.48 254.74L195.02 255.14L196.47 255.55L197.76 255.95L198.84 256.36L199.71 256.76L200.36 257.17L200.84 257.57L201.18 257.97L201.4 258.38L201.54 258.78L201.63 259.19L201.68 259.59L201.71 260L201.72 260.4L201.74 260.4 Z" fill="#72b6a1" stroke="#505050" stroke-width="0.85" stroke-linejoin="round"/>
<path d="M201.74 241.4L201.9 241.4L201.96 241.8L202.03 242.2L202.13 242.6L202.25 243L202.39 243.41L202.57 243.81L202.79 244.21L203.04 244.61L203.33 245.01L203.67 245.41L204.05 245.81L204.47 246.21L204.92 246.61L205.41 247.01L205.91 247.42L206.43 247.82L206.95 248.22L207.45 248.62L207.93 249.02L208.36 249.42L208.73 249.82L209.04 250.22L209.26 250.62L209.4 251.02L209.44 251.43L209.39 251.83L209.24 252.23L209 252.63L208.69 253.03L208.31 253.43L207.87 253.83L207.39 254.23L206.88 254.63L206.37 255.03L205.85 255.44L205.34 255.84L204.86 256.24L204.41 256.64L204 257.04L203.62 257.44L203.29 257.84L203 258.24L202.76 258.64L202.55 259.04L202.37 259.45L202.23 259.85L202.12 260.25L202.03 260.65L201.95 261.05L201.9 261.45L201.86 261.85L201.83 262.25L201.82 262.65L201.81 263.06L201.81 263.46L201.82 263.86L201.85 264.26L201.89 264.66L201.95 265.06L202.03 265.46L202.14 265.86L202.29 266.26L202.47 266.66L202.7 267.07L202.98 267.47L203.31 267.87L203.7 268.27L204.14 268.67L204.62 269.07L205.14 269.47L205.69 269.87L206.24 270.27L206.78 270.67L207.28 271.08L207.72 271.48L208.08 271.88L208.35 272.28L208.5 272.68L208.54 273.08L208.45 273.48L208.25 273.88L207.95 274.28L207.55 274.68L207.08 275.09L206.56 275.49L206.02 275.89L205.47 276.29L204.93 276.69L204.42 277.09L203.96 277.49L203.54 277.89L203.17 278.29L202.86 278.69L202.6 279.1L202.39 279.5L202.22 279.9L202.09 280.3L201.99 280.7L201.74 280.7 Z" fill="#e9946f" stroke="#505050" stroke-width="0.85" stroke-linejoin="round"/>
<path d="M201.74 241.4V280.7" stroke="#505050" stroke-width="0.6"/>
<path d="M201.74 250.5V273.4" stroke="#505050" stroke-width="2.6"/>
<circle cx="201.74" cy="255.5" r="1.05" fill="#fff" stroke="#484848" stroke-width="0.6"/>
</g>
<rect x="44.85" y="273.3" width="58.6" height="23.9" rx="1.6" fill="#eaeaf2" fill-opacity="0.8" stroke="#ccc" stroke-width="0.7"/>
<rect x="47.95" y="276.95" width="14.4" height="5" fill="#72b6a1" stroke="#505050" stroke-width="0.5"/>
<text x="68.05" y="281.45" font-size="7.12">original</text>
<rect x="47.95" y="287.65" width="14.4" height="5" fill="#e9946f" stroke="#505050" stroke-width="0.5"/>
<text x="68.05" y="292.15" font-size="7.12">generated</text>
<text x="130.5" y="227.15" font-size="8.67" text-anchor="middle">crop_scale</text>
<text x="130.5" y="324" font-size="8.67" text-anchor="middle">year_label</text>
<text transform="translate(7.45 265.8) rotate(-90)" font-size="8.67" text-anchor="middle">crop_scale</text>
</g>
<g>
<rect x="273.7" y="231.9" width="178.1" height="67.8" fill="#eaeaf2"/>
<clipPath id="c7"><rect x="273.7" y="231.9" width="178.1" height="67.8"/></clipPath>
<path d="M273.7 252.5H451.8" stroke="#fff" stroke-width="0.8"/>
<text x="266.4" y="255.35" font-size="8.0" text-anchor="end">0.6</text>
<path d="M273.7 276.3H451.8" stroke="#fff" stroke-width="0.8"/>
<text x="266.4" y="279.15" font-size="8.0" text-anchor="end">0.4</text>
<path d="M273.7 299.9H451.8" stroke="#fff" stroke-width="0.8"/>
<text x="266.4" y="302.75" font-size="8.0" text-anchor="end">0.2</text>
<text x="291.51" y="313.2" font-size="8.0" text-anchor="middle">1</text>
<text x="327.13" y="313.2" font-size="8.0" text-anchor="middle">2</text>
<text x="362.75" y="313.2" font-size="8.0" text-anchor="middle">3</text>
<text x="398.37" y="313.2" font-size="8.0" text-anchor="middle">4</text>
<text x="433.99" y="313.2" font-size="8.0" text-anchor="middle">5</text>
<g clip-path="url(#c7)" fill="none">
<path d="M291.51 264.9V295.8" stroke="#505050" stroke-width="1.15"/>
<path d="M291.51 250.1H306.11" stroke="#484848" stroke-width="1.25"/>
<circle cx="291.51" cy="250.1" r="1.25" fill="#fff" stroke="#484848" stroke-width="0.6"/>
<path d="M327.13 261.2L327.12 261.2L327.12 261.6L327.11 262L327.11 262.4L327.1 262.81L327.09 263.21L327.09 263.61L327.08 264.01L327.06 264.41L327.05 264.81L327.03 265.22L327.01 265.62L326.98 266.02L326.96 266.42L326.92 266.82L326.89 267.22L326.84 267.63L326.79 268.03L326.74 268.43L326.68 268.83L326.61 269.23L326.53 269.63L326.45 270.04L326.36 270.44L326.26 270.84L326.15 271.24L326.04 271.64L325.92 272.04L325.79 272.45L325.66 272.85L325.52 273.25L325.38 273.65L325.24 274.05L325.1 274.45L324.96 274.85L324.82 275.26L324.69 275.66L324.56 276.06L324.44 276.46L324.33 276.86L324.23 277.26L324.14 277.67L324.07 278.07L324.01 278.47L323.97 278.87L323.94 279.27L323.93 279.67L323.96 280.08L324.07 280.48L324.24 280.88L324.47 281.28L324.74 281.68L325.03 282.08L325.33 282.49L325.62 282.89L325.9 283.29L326.14 283.69L326.36 284.09L326.55 284.49L326.7 284.9L326.81 285.3L326.91 285.7L326.98 286.1L327.13 286.1 Z" fill="#72b6a1" stroke="#505050" stroke-width="0.85" stroke-linejoin="round"/>
<path d="M327.13 261.2L327.13 261.2L327.13 261.6L327.13 261.99L327.13 262.39L327.13 262.79L327.13 263.18L327.13 263.58L327.13 263.98L327.13 264.38L327.13 264.77L327.13 265.17L327.13 265.57L327.13 265.96L327.13 266.36L327.13 266.76L327.13 267.15L327.13 267.55L327.13 267.95L327.15 268.34L327.33 268.74L328.24 269.14L331.13 269.53L336.45 269.93L341.14 270.33L340.74 270.72L335.66 271.12L330.58 271.52L328.03 271.92L327.28 272.31L327.15 272.71L327.13 273.11L327.13 273.5L327.13 273.9L327.13 273.9 Z" fill="#e9946f" stroke="#505050" stroke-width="0.85" stroke-linejoin="round"/>
<circle cx="327.13" cy="270.5" r="1.1" fill="#fff" stroke="#484848" stroke-width="0.6"/>
<path d="M362.75 267.9L362.66 267.9L362.62 268.3L362.58 268.7L362.52 269.1L362.44 269.5L362.34 269.9L362.22 270.3L362.07 270.7L361.89 271.1L361.68 271.5L361.43 271.9L361.14 272.3L360.81 272.7L360.44 273.1L360.04 273.5L359.61 273.9L359.16 274.3L358.68 274.7L358.2 275.1L357.73 275.5L357.28 275.9L356.86 276.3L356.48 276.7L356.17 277.1L355.92 277.5L355.75 277.9L355.66 278.3L355.67 278.7L355.81 279.1L356.09 279.5L356.48 279.9L356.98 280.3L357.54 280.7L358.14 281.1L358.75 281.5L359.35 281.9L359.92 282.3L360.44 282.7L360.91 283.1L361.31 283.5L361.64 283.9L361.92 284.3L362.14 284.7L362.31 285.1L362.44 285.5L362.53 285.9L362.75 285.9 Z" fill="#72b6a1" stroke="#505050" stroke-width="0.85" stroke-linejoin="round"/>
<path d="M362.75 269.4L362.75 269.4L362.76 269.8L362.79 270.21L362.88 270.61L363.1 271.01L363.52 271.41L364.21 271.82L365.11 272.22L366 272.62L366.56 273.02L366.61 273.43L366.17 273.83L365.54 274.23L365.04 274.64L364.93 275.04L365.31 275.44L366.2 275.84L367.62 276.25L369.53 276.65L371.84 277.05L374.24 277.46L376.29 277.86L377.49 278.26L377.53 278.66L376.34 279.07L374.2 279.47L371.58 279.87L368.99 280.27L366.78 280.68L365.13 281.08L364.04 281.48L363.39 281.89L363.04 282.29L362.87 282.69L362.8 283.09L362.77 283.5L362.75 283.9L362.75 283.9 Z" fill="#e9946f" stroke="#505050" stroke-width="0.85" stroke-linejoin="round"/>
<path d="M362.75 267.9V285.9" stroke="#505050" stroke-width="0.6"/>
<path d="M362.75 274.3V280.7" stroke="#505050" stroke-width="2.6"/>
<circle cx="362.75" cy="278.4" r="1.05" fill="#fff" stroke="#484848" stroke-width="0.6"/>
<path d="M398.37 256.9L398.37 256.9L398.37 257.3L398.37 257.7L398.37 258.09L398.37 258.49L398.37 258.89L398.36 259.29L398.36 259.68L398.36 260.08L398.36 260.48L398.35 260.88L398.35 261.27L398.34 261.67L398.33 262.07L398.32 262.47L398.31 262.86L398.29 263.26L398.26 263.66L398.24 264.06L398.2 264.45L398.16 264.85L398.11 265.25L398.05 265.65L397.98 266.04L397.9 266.44L397.8 266.84L397.69 267.24L397.56 267.63L397.41 268.03L397.24 268.43L397.05 268.83L396.83 269.22L396.59 269.62L396.33 270.02L396.04 270.42L395.73 270.81L395.4 271.21L395.04 271.61L394.67 272.01L394.28 272.4L393.88 272.8L393.47 273.2L393.05 273.6L392.64 274L392.23 274.39L391.84 274.79L391.46 275.19L391.11 275.59L390.79 275.98L390.51 276.38L390.27 276.78L390.07 277.18L389.92 277.57L389.82 277.97L389.77 278.37L389.79 278.77L389.89 279.16L390.07 279.56L390.32 279.96L390.65 280.36L391.03 280.75L391.47 281.15L391.94 281.55L392.44 281.95L392.95 282.34L393.47 282.74L393.98 283.14L394.48 283.54L394.95 283.93L395.4 284.33L395.81 284.73L396.19 285.13L396.53 285.52L396.83 285.92L397.1 286.32L397.33 286.72L397.52 287.11L397.69 287.51L397.83 287.91L397.94 288.31L398.04 288.7L398.11 289.1L398.17 289.5L398.37 289.5 Z" fill="#72b6a1" stroke="#505050" stroke-width="0.85" stroke-linejoin="round"/>
<path d="M398.37 268.4L398.4 268.4L398.43 268.8L398.49 269.19L398.59 269.59L398.75 269.98L399.01 270.38L399.39 270.77L399.94 271.17L400.69 271.57L401.64 271.96L402.78 272.36L404.08 272.75L405.44 273.15L406.76 273.55L407.91 273.94L408.76 274.34L409.23 274.73L409.28 275.13L408.94 275.52L408.31 275.92L407.53 276.32L406.77 276.71L406.21 277.11L405.99 277.5L406.2 277.9L406.84 278.3L407.85 278.69L409.09 279.09L410.36 279.48L411.47 279.88L412.22 280.27L412.48 280.67L412.17 281.07L411.31 281.46L410.01 281.86L408.4 282.25L406.64 282.65L404.9 283.05L403.31 283.44L401.95 283.84L400.85 284.23L400.02 284.63L399.42 285.02L399.01 285.42L398.74 285.82L398.58 286.21L398.48 286.61L398.43 287L398.4 287.4L398.37 287.4 Z" fill="#e9946f" stroke="#505050" stroke-width="0.85" stroke-linejoin="round"/>
<path d="M398.37 256.9V289.5" stroke="#505050" stroke-width="0.6"/>
<path d="M398.37 273.4V281.6" stroke="#505050" stroke-width="2.6"/>
<circle cx="398.37" cy="278.4" r="1.05" fill="#fff" stroke="#484848" stroke-width="0.6"/>
<path d="M433.99 234.1L433.99 234.1L433.99 234.5L433.99 234.9L433.99 235.3L433.99 235.7L433.99 236.1L433.99 236.5L433.99 236.9L433.99 237.29L433.99 237.69L433.99 238.09L433.99 238.49L433.99 238.89L433.99 239.29L433.99 239.69L433.99 240.09L433.99 240.49L433.99 240.89L433.99 241.29L433.99 241.69L433.99 242.09L433.99 242.49L433.99 242.89L433.99 243.29L433.99 243.68L433.99 244.08L433.99 244.48L433.99 244.88L433.99 245.28L433.99 245.68L433.99 246.08L433.99 246.48L433.99 246.88L433.99 247.28L433.98 247.68L433.98 248.08L433.98 248.48L433.98 248.88L433.98 249.28L433.98 249.68L433.97 250.07L433.97 250.47L433.97 250.87L433.96 251.27L433.96 251.67L433.95 252.07L433.95 252.47L433.94 252.87L433.93 253.27L433.92 253.67L433.91 254.07L433.9 254.47L433.89 254.87L433.87 255.27L433.85 255.67L433.83 256.07L433.81 256.46L433.78 256.86L433.75 257.26L433.72 257.66L433.69 258.06L433.65 258.46L433.6 258.86L433.55 259.26L433.5 259.66L433.44 260.06L433.38 260.46L433.31 260.86L433.23 261.26L433.15 261.66L433.06 262.06L432.96 262.46L432.86 262.85L432.75 263.25L432.63 263.65L432.5 264.05L432.37 264.45L432.23 264.85L432.08 265.25L431.92 265.65L431.76 266.05L431.59 266.45L431.42 266.85L431.23 267.25L431.05 267.65L430.85 268.05L430.66 268.45L430.46 268.84L430.25 269.24L430.05 269.64L429.84 270.04L429.64 270.44L429.43 270.84L429.23 271.24L429.03 271.64L428.84 272.04L428.65 272.44L428.47 272.84L428.29 273.24L428.13 273.64L427.98 274.04L427.83 274.44L427.7 274.84L427.58 275.23L427.48 275.63L427.39 276.03L427.32 276.43L427.26 276.83L427.22 277.23L427.2 277.63L427.19 278.03L427.2 278.43L427.25 278.83L427.31 279.23L427.4 279.63L427.51 280.03L427.65 280.43L427.8 280.83L427.98 281.23L428.17 281.62L428.38 282.02L428.6 282.42L428.83 282.82L429.07 283.22L429.31 283.62L429.56 284.02L429.81 284.42L430.07 284.82L430.32 285.22L430.57 285.62L430.81 286.02L431.05 286.42L431.28 286.82L431.5 287.22L431.71 287.62L431.91 288.01L432.11 288.41L432.29 288.81L432.45 289.21L432.61 289.61L432.76 290.01L432.89 290.41L433.01 290.81L433.13 291.21L433.23 291.61L433.32 292.01L433.41 292.41L433.48 292.81L433.55 293.21L433.61 293.61L433.66 294.01L433.71 294.4L433.75 294.8L433.79 295.2L433.82 295.6L433.84 296L433.87 296.4L433.89 296.8L433.9 297.2L433.99 297.2 Z" fill="#72b6a1" stroke="#505050" stroke-width="0.85" stroke-linejoin="round"/>
<path d="M433.99 259.4L434.02 259.4L434.03 259.8L434.05 260.2L434.06 260.6L434.08 261.01L434.1 261.41L434.13 261.81L434.16 262.21L434.2 262.61L434.25 263.01L434.31 263.41L434.38 263.82L434.46 264.22L434.55 264.62L434.67 265.02L434.8 265.42L434.95 265.82L435.12 266.22L435.31 266.63L435.53 267.03L435.78 267.43L436.06 267.83L436.37 268.23L436.71 268.63L437.08 269.03L437.49 269.44L437.93 269.84L438.4 270.24L438.91 270.64L439.44 271.04L440 271.44L440.59 271.84L441.2 272.25L441.82 272.65L442.45 273.05L443.08 273.45L443.71 273.85L444.34 274.25L444.94 274.65L445.52 275.05L446.07 275.46L446.59 275.86L447.05 276.26L447.47 276.66L447.82 277.06L448.12 277.46L448.34 277.86L448.5 278.27L448.58 278.67L448.58 279.07L448.48 279.47L448.27 279.87L447.95 280.27L447.54 280.67L447.04 281.08L446.47 281.48L445.83 281.88L445.14 282.28L444.4 282.68L443.65 283.08L442.88 283.48L442.1 283.89L441.34 284.29L440.6 284.69L439.89 285.09L439.22 285.49L438.59 285.89L438 286.29L437.46 286.7L436.97 287.1L436.53 287.5L436.14 287.9L433.99 287.9 Z" fill="#e9946f" stroke="#505050" stroke-width="0.85" stroke-linejoin="round"/>
<path d="M433.99 234.1V297.2" stroke="#505050" stroke-width="0.6"/>
<path d="M433.99 272.5V281.6" stroke="#505050" stroke-width="2.6"/>
<circle cx="433.99" cy="277.4" r="1.05" fill="#fff" stroke="#484848" stroke-width="0.6"/>
</g>
<rect x="390.3" y="235.2" width="58.6" height="23.9" rx="1.6" fill="#eaeaf2" fill-opacity="0.8" stroke="#ccc" stroke-width="0.7"/>
<rect x="393.4" y="238.85" width="14.4" height="5" fill="#72b6a1" stroke="#505050" stroke-width="0.5"/>
<text x="413.5" y="243.35" font-size="7.12">original</text>
<rect x="393.4" y="249.55" width="14.4" height="5" fill="#e9946f" stroke="#505050" stroke-width="0.5"/>
<text x="413.5" y="254.05" font-size="7.12">generated</text>
<text x="362.75" y="227.15" font-size="8.67" text-anchor="middle">crop_water_productivity</text>
<text x="362.75" y="324" font-size="8.67" text-anchor="middle">year_label</text>
<text transform="translate(251.3 265.8) rotate(-90)" font-size="8.67" text-anchor="middle">crop_water_productivity</text>
</g>
<g>
<rect x="506" y="231.9" width="178.1" height="67.8" fill="#eaeaf2"/>
<clipPath id="c8"><rect x="506" y="231.9" width="178.1" height="67.8"/></clipPath>
<path d="M506 244.8H684.1" stroke="#fff" stroke-width="0.8"/>
<text x="498.7" y="247.65" font-size="8.0" text-anchor="end">150000</text>
<path d="M506 278.3H684.1" stroke="#fff" stroke-width="0.8"/>
<text x="498.7" y="281.15" font-size="8.0" text-anchor="end">100000</text>
<text x="523.81" y="313.2" font-size="8.0" text-anchor="middle">1</text>
<text x="559.43" y="313.2" font-size="8.0" text-anchor="middle">2</text>
<text x="595.05" y="313.2" font-size="8.0" text-anchor="middle">3</text>
<text x="630.67" y="313.2" font-size="8.0" text-anchor="middle">4</text>
<text x="666.29" y="313.2" font-size="8.0" text-anchor="middle">5</text>
<g clip-path="url(#c8)" fill="none">
<path d="M523.81 248.5V297.8" stroke="#505050" stroke-width="1.15"/>
<path d="M523.81 245.2H538.41" stroke="#484848" stroke-width="1.25"/>
<circle cx="523.81" cy="245.2" r="1.25" fill="#fff" stroke="#484848" stroke-width="0.6"/>
<path d="M559.43 247.8L559.22 247.8L559.17 248.2L559.11 248.6L559.04 249L558.97 249.4L558.9 249.81L558.83 250.21L558.76 250.61L558.69 251.01L558.63 251.41L558.59 251.81L558.55 252.21L558.53 252.61L558.53 253.01L558.54 253.42L558.57 253.82L558.61 254.22L558.67 254.62L558.73 255.02L558.8 255.42L558.87 255.82L558.94 256.22L559.01 256.62L559.08 257.02L559.14 257.43L559.2 257.83L559.24 258.23L559.28 258.63L559.32 259.03L559.35 259.43L559.37 259.83L559.38 260.23L559.4 260.63L559.41 261.04L559.41 261.44L559.42 261.84L559.42 262.24L559.43 262.64L559.43 263.04L559.43 263.44L559.43 263.84L559.43 264.24L559.43 264.65L559.43 265.05L559.43 265.45L559.43 265.85L559.43 266.25L559.43 266.65L559.43 267.05L559.43 267.45L559.43 267.85L559.43 268.26L559.43 268.66L559.43 269.06L559.43 269.46L559.43 269.86L559.43 270.26L559.43 270.66L559.43 271.06L559.43 271.46L559.43 271.87L559.43 272.27L559.43 272.67L559.43 273.07L559.43 273.47L559.43 273.87L559.43 274.27L559.43 274.67L559.43 275.07L559.43 275.48L559.43 275.88L559.43 276.28L559.43 276.68L559.43 277.08L559.43 277.48L559.43 277.88L559.43 278.28L559.43 278.68L559.43 279.08L559.43 279.49L559.43 279.89L559.43 280.29L559.43 280.69L559.43 281.09L559.43 281.49L559.43 281.89L559.43 282.29L559.43 282.69L559.43 283.1L559.43 283.5L559.43 283.9L559.43 284.3L559.43 284.7L559.43 284.7 Z" fill="#72b6a1" stroke="#505050" stroke-width="0.85" stroke-linejoin="round"/>
<path d="M559.43 250.7L559.43 250.7L559.57 251.12L561.29 251.55L568.06 251.98L573.83 252.4L568.06 252.82L561.29 253.25L559.57 253.68L559.43 254.1L559.43 254.1 Z" fill="#e9946f" stroke="#505050" stroke-width="0.85" stroke-linejoin="round"/>
<path d="M559.43 247.8V284.7" stroke="#505050" stroke-width="0.9"/>
<path d="M559.43 251.6L573.83 252.1L573.83 252.7L559.43 253.2Z" fill="#484848"/>
<circle cx="559.43" cy="252.4" r="1.15" fill="#fff" stroke="#484848" stroke-width="0.6"/>
<path d="M595.05 245L595.05 245L595.05 245.4L595.05 245.8L595.05 246.2L595.04 246.6L595.04 247L595.04 247.4L595.03 247.8L595.03 248.2L595.02 248.6L595.01 249L595 249.4L594.99 249.8L594.97 250.2L594.95 250.6L594.92 251L594.89 251.4L594.85 251.8L594.8 252.2L594.74 252.6L594.67 253L594.6 253.4L594.5 253.8L594.4 254.2L594.28 254.6L594.15 255L594 255.4L593.83 255.8L593.65 256.2L593.46 256.6L593.25 257L593.03 257.4L592.8 257.8L592.56 258.2L592.32 258.6L592.08 259L591.84 259.4L591.61 259.8L591.38 260.2L591.18 260.6L590.99 261L590.83 261.4L590.69 261.8L590.58 262.2L590.5 262.6L590.46 263L590.45 263.4L590.47 263.8L590.5 264.2L590.56 264.6L590.63 265L590.72 265.4L590.83 265.8L590.96 266.2L591.1 266.6L591.25 267L591.41 267.4L591.58 267.8L591.75 268.2L591.94 268.6L592.12 269L592.31 269.4L592.49 269.8L592.68 270.2L592.86 270.6L593.03 271L593.2 271.4L593.36 271.8L593.52 272.2L593.67 272.6L593.8 273L593.93 273.4L594.06 273.8L594.17 274.2L594.27 274.6L594.36 275L594.45 275.4L594.52 275.8L594.59 276.2L594.66 276.6L594.71 277L594.76 277.4L595.05 277.4 Z" fill="#72b6a1" stroke="#505050" stroke-width="0.85" stroke-linejoin="round"/>
<path d="M595.05 252.4L595.43 252.4L595.98 252.81L597.05 253.21L598.85 253.62L601.41 254.03L604.44 254.44L607.29 254.84L609.12 255.25L609.32 255.66L607.83 256.07L605.2 256.47L602.32 256.88L600.03 257.29L598.89 257.7L599.15 258.1L600.72 258.51L603.19 258.92L605.87 259.33L607.9 259.73L608.55 260.14L607.56 260.55L605.29 260.96L602.44 261.36L599.75 261.77L597.69 262.18L596.36 262.59L595.62 262.99L595.27 263.4L595.05 263.4 Z" fill="#e9946f" stroke="#505050" stroke-width="0.85" stroke-linejoin="round"/>
<path d="M595.05 245V277.4" stroke="#505050" stroke-width="0.6"/>
<path d="M595.05 255.2V260.6" stroke="#505050" stroke-width="2.6"/>
<circle cx="595.05" cy="257.5" r="1.05" fill="#fff" stroke="#484848" stroke-width="0.6"/>
<path d="M630.67 236.8L629.89 236.8L629.82 237.2L629.75 237.6L629.68 238L629.6 238.4L629.52 238.8L629.43 239.21L629.33 239.61L629.23 240.01L629.13 240.41L629.02 240.81L628.9 241.21L628.78 241.61L628.65 242.01L628.52 242.41L628.38 242.81L628.23 243.21L628.08 243.62L627.93 244.02L627.77 244.42L627.6 244.82L627.43 245.22L627.25 245.62L627.07 246.02L626.88 246.42L626.69 246.82L626.49 247.22L626.29 247.62L626.09 248.03L625.88 248.43L625.67 248.83L625.46 249.23L625.25 249.63L625.04 250.03L624.82 250.43L624.61 250.83L624.4 251.23L624.18 251.63L623.97 252.03L623.76 252.43L623.56 252.84L623.35 253.24L623.16 253.64L622.96 254.04L622.78 254.44L622.59 254.84L622.42 255.24L622.25 255.64L622.09 256.04L621.94 256.44L621.8 256.84L621.67 257.25L621.55 257.65L621.44 258.05L621.34 258.45L621.25 258.85L621.17 259.25L621.11 259.65L621.05 260.05L621.01 260.45L620.99 260.85L620.97 261.25L620.97 261.66L621.01 262.06L621.09 262.46L621.22 262.86L621.38 263.26L621.58 263.66L621.81 264.06L622.08 264.46L622.38 264.86L622.7 265.26L623.05 265.66L623.41 266.07L623.78 266.47L624.17 266.87L624.56 267.27L624.95 267.67L625.34 268.07L625.73 268.47L626.11 268.87L626.48 269.27L626.83 269.67L627.18 270.07L627.5 270.48L627.81 270.88L628.1 271.28L628.37 271.68L628.62 272.08L628.85 272.48L629.06 272.88L629.26 273.28L629.44 273.68L629.59 274.08L629.74 274.48L629.86 274.88L629.98 275.29L630.08 275.69L630.17 276.09L630.24 276.49L630.31 276.89L630.37 277.29L630.42 277.69L630.46 278.09L630.49 278.49L630.52 278.89L630.55 279.29L630.57 279.7L630.59 280.1L630.61 280.5L630.62 280.9L630.63 281.3L630.64 281.7L630.67 281.7 Z" fill="#72b6a1" stroke="#505050" stroke-width="0.85" stroke-linejoin="round"/>
<path d="M630.67 250.4L631.19 250.4L631.36 250.8L631.57 251.21L631.84 251.61L632.16 252.01L632.55 252.41L633.02 252.82L633.56 253.22L634.18 253.62L634.88 254.02L635.66 254.43L636.51 254.83L637.43 255.23L638.38 255.63L639.37 256.04L640.35 256.44L641.32 256.84L642.24 257.24L643.08 257.65L643.81 258.05L644.42 258.45L644.88 258.85L645.17 259.26L645.28 259.66L645.22 260.06L644.98 260.46L644.57 260.87L644.02 261.27L643.34 261.67L642.55 262.07L641.7 262.48L640.8 262.88L639.88 263.28L638.98 263.68L638.12 264.09L637.31 264.49L636.57 264.89L635.91 265.29L635.34 265.7L634.84 266.1L634.43 266.5L634.09 266.9L633.81 267.31L633.59 267.71L633.4 268.11L633.25 268.51L633.13 268.92L633.03 269.32L632.96 269.72L632.93 270.12L632.94 270.53L633.01 270.93L633.14 271.33L633.36 271.73L633.66 272.14L634.06 272.54L634.54 272.94L635.08 273.34L635.68 273.75L636.28 274.15L636.85 274.55L637.35 274.95L637.75 275.36L637.99 275.76L638.07 276.16L637.96 276.56L637.68 276.97L637.25 277.37L636.68 277.77L636.03 278.17L635.32 278.58L634.61 278.98L633.92 279.38L633.28 279.78L632.72 280.19L632.23 280.59L631.83 280.99L631.51 281.39L631.27 281.8L631.08 282.2L630.67 282.2 Z" fill="#e9946f" stroke="#505050" stroke-width="0.85" stroke-linejoin="round"/>
<path d="M630.67 236.8V282.2" stroke="#505050" stroke-width="0.6"/>
<path d="M630.67 256.9V269.8" stroke="#505050" stroke-width="2.6"/>
<circle cx="630.67" cy="261.5" r="1.05" fill="#fff" stroke="#484848" stroke-width="0.6"/>
<path d="M666.29 234.6L665.22 234.6L665.15 235L665.08 235.4L665 235.8L664.92 236.2L664.84 236.6L664.76 237L664.67 237.4L664.58 237.8L664.49 238.2L664.39 238.6L664.29 239L664.19 239.4L664.09 239.8L663.98 240.2L663.86 240.6L663.75 241L663.63 241.4L663.51 241.8L663.39 242.2L663.27 242.6L663.14 243L663.01 243.4L662.88 243.8L662.75 244.2L662.62 244.6L662.48 245L662.35 245.4L662.21 245.8L662.08 246.2L661.94 246.6L661.81 247L661.67 247.4L661.54 247.8L661.4 248.2L661.27 248.6L661.14 249L661.01 249.4L660.89 249.8L660.77 250.2L660.65 250.6L660.53 251L660.42 251.4L660.31 251.8L660.2 252.2L660.1 252.6L660 253L659.91 253.4L659.83 253.8L659.75 254.2L659.67 254.6L659.61 255L659.54 255.4L659.49 255.8L659.44 256.2L659.4 256.6L659.36 257L659.33 257.4L659.31 257.8L659.3 258.2L659.29 258.6L659.29 259L659.31 259.4L659.33 259.8L659.37 260.2L659.43 260.6L659.5 261L659.58 261.4L659.67 261.8L659.77 262.2L659.89 262.6L660.01 263L660.15 263.4L660.29 263.8L660.44 264.2L660.6 264.6L660.77 265L660.94 265.4L661.12 265.8L661.3 266.2L661.48 266.6L661.67 267L661.86 267.4L662.04 267.8L662.23 268.2L662.42 268.6L662.61 269L662.79 269.4L662.97 269.8L663.15 270.2L663.33 270.6L663.5 271L663.66 271.4L663.82 271.8L663.98 272.2L664.13 272.6L664.27 273L664.41 273.4L664.54 273.8L664.67 274.2L664.79 274.6L664.9 275L665.01 275.4L665.11 275.8L665.21 276.2L665.3 276.6L665.38 277L665.46 277.4L665.54 277.8L665.6 278.2L665.67 278.6L665.73 279L665.78 279.4L665.83 279.8L665.88 280.2L665.92 280.6L665.96 281L665.99 281.4L666.02 281.8L666.05 282.2L666.29 282.2 Z" fill="#72b6a1" stroke="#505050" stroke-width="0.85" stroke-linejoin="round"/>
<path d="M666.29 251.9L666.35 251.9L666.38 252.3L666.42 252.7L666.48 253.1L666.56 253.49L666.67 253.89L666.82 254.29L667 254.69L667.24 255.09L667.54 255.49L667.92 255.89L668.37 256.29L668.91 256.68L669.55 257.08L670.27 257.48L671.1 257.88L672 258.28L672.98 258.68L674.02 259.08L675.08 259.48L676.15 259.87L677.19 260.27L678.16 260.67L679.04 261.07L679.78 261.47L680.36 261.87L680.77 262.27L680.97 262.66L680.97 263.06L680.78 263.46L680.4 263.86L679.85 264.26L679.17 264.66L678.38 265.06L677.52 265.46L676.63 265.85L675.74 266.25L674.87 266.65L674.06 267.05L673.32 267.45L672.65 267.85L672.08 268.25L671.58 268.65L671.17 269.04L670.83 269.44L670.56 269.84L670.35 270.24L670.21 270.64L670.12 271.04L670.1 271.44L670.15 271.84L670.27 272.23L670.47 272.63L670.75 273.03L671.11 273.43L671.54 273.83L672.02 274.23L672.54 274.63L673.05 275.02L673.54 275.42L673.96 275.82L674.28 276.22L674.47 276.62L674.52 277.02L674.4 277.42L674.14 277.82L673.72 278.21L673.19 278.61L672.56 279.01L671.87 279.41L671.14 279.81L670.43 280.21L669.74 280.61L669.11 281.01L668.54 281.4L668.05 281.8L667.63 282.2L667.3 282.6L666.29 282.6 Z" fill="#e9946f" stroke="#505050" stroke-width="0.85" stroke-linejoin="round"/>
<path d="M666.29 234.6V282.6" stroke="#505050" stroke-width="0.6"/>
<path d="M666.29 260.6V274.3" stroke="#505050" stroke-width="2.6"/>
<circle cx="666.29" cy="264.6" r="1.05" fill="#fff" stroke="#484848" stroke-width="0.6"/>
</g>
<rect x="509.4" y="273.3" width="58.6" height="23.9" rx="1.6" fill="#eaeaf2" fill-opacity="0.8" stroke="#ccc" stroke-width="0.7"/>
<rect x="512.5" y="276.95" width="14.4" height="5" fill="#72b6a1" stroke="#505050" stroke-width="0.5"/>
<text x="532.6" y="281.45" font-size="7.12">original</text>
<rect x="512.5" y="287.65" width="14.4" height="5" fill="#e9946f" stroke="#505050" stroke-width="0.5"/>
<text x="532.6" y="292.15" font-size="7.12">generated</text>
<text x="595.05" y="227.15" font-size="8.67" text-anchor="middle">crop yield</text>
<text x="595.05" y="324" font-size="8.67" text-anchor="middle">year_label</text>
<text transform="translate(467.2 265.8) rotate(-90)" font-size="8.67" text-anchor="middle">crop yield</text>
</g>
<g>
<rect x="41.45" y="342" width="178.1" height="67.8" fill="#eaeaf2"/>
<clipPath id="c9"><rect x="41.45" y="342" width="178.1" height="67.8"/></clipPath>
<path d="M41.45 350.9H219.55" stroke="#fff" stroke-width="0.8"/>
<text x="34.15" y="353.75" font-size="8.0" text-anchor="end">4</text>
<path d="M41.45 382.5H219.55" stroke="#fff" stroke-width="0.8"/>
<text x="34.15" y="385.35" font-size="8.0" text-anchor="end">2</text>
<text x="59.26" y="423.3" font-size="8.0" text-anchor="middle">1</text>
<text x="94.88" y="423.3" font-size="8.0" text-anchor="middle">2</text>
<text x="130.5" y="423.3" font-size="8.0" text-anchor="middle">3</text>
<text x="166.12" y="423.3" font-size="8.0" text-anchor="middle">4</text>
<text x="201.74" y="423.3" font-size="8.0" text-anchor="middle">5</text>
<g clip-path="url(#c9)" fill="none">
<path d="M59.26 370.2V407.3" stroke="#505050" stroke-width="1.15"/>
<path d="M59.26 357.8H73.86" stroke="#484848" stroke-width="1.25"/>
<circle cx="59.26" cy="357.8" r="1.25" fill="#fff" stroke="#484848" stroke-width="0.6"/>
<path d="M94.88 364L94.86 364L94.85 364.4L94.84 364.8L94.84 365.2L94.83 365.6L94.82 366.01L94.81 366.41L94.8 366.81L94.78 367.21L94.76 367.61L94.74 368.01L94.72 368.41L94.7 368.81L94.67 369.21L94.64 369.62L94.61 370.02L94.57 370.42L94.53 370.82L94.49 371.22L94.44 371.62L94.39 372.02L94.34 372.42L94.28 372.82L94.22 373.23L94.16 373.63L94.1 374.03L94.03 374.43L93.96 374.83L93.9 375.23L93.83 375.63L93.76 376.03L93.69 376.43L93.62 376.84L93.56 377.24L93.5 377.64L93.44 378.04L93.39 378.44L93.34 378.84L93.3 379.24L93.26 379.64L93.23 380.04L93.21 380.45L93.19 380.85L93.18 381.25L93.18 381.65L93.19 382.05L93.2 382.45L93.22 382.85L93.25 383.25L93.29 383.65L93.33 384.05L93.37 384.46L93.43 384.86L93.48 385.26L93.54 385.66L93.61 386.06L93.67 386.46L93.74 386.86L93.81 387.26L93.88 387.66L93.95 388.07L94.01 388.47L94.08 388.87L94.14 389.27L94.21 389.67L94.27 390.07L94.32 390.47L94.38 390.87L94.43 391.27L94.48 391.68L94.52 392.08L94.56 392.48L94.6 392.88L94.63 393.28L94.66 393.68L94.69 394.08L94.72 394.48L94.74 394.88L94.76 395.29L94.78 395.69L94.79 396.09L94.8 396.49L94.82 396.89L94.83 397.29L94.84 397.69L94.84 398.09L94.85 398.49L94.85 398.9L94.86 399.3L94.86 399.7L94.87 400.1L94.87 400.5L94.88 400.5 Z" fill="#72b6a1" stroke="#505050" stroke-width="0.85" stroke-linejoin="round"/>
<path d="M94.88 368.8L94.88 368.8L94.93 369.22L95.49 369.64L98.44 370.06L105.14 370.48L109.48 370.9L105.14 371.32L98.44 371.74L95.49 372.16L94.93 372.58L94.88 373L94.88 373 Z" fill="#e9946f" stroke="#505050" stroke-width="0.85" stroke-linejoin="round"/>
<path d="M94.88 364V400.5" stroke="#505050" stroke-width="0.8"/>
<circle cx="94.88" cy="370.9" r="1.15" fill="#fff" stroke="#484848" stroke-width="0.6"/>
<path d="M130.5 370.2L130.36 370.2L130.31 370.6L130.25 371L130.16 371.41L130.06 371.81L129.93 372.21L129.78 372.61L129.59 373.01L129.36 373.42L129.09 373.82L128.78 374.22L128.42 374.62L128.02 375.02L127.57 375.43L127.08 375.83L126.55 376.23L125.99 376.63L125.4 377.03L124.81 377.43L124.21 377.84L123.64 378.24L123.09 378.64L122.58 379.04L122.14 379.44L121.77 379.85L121.49 380.25L121.3 380.65L121.21 381.05L121.23 381.45L121.38 381.86L121.67 382.26L122.07 382.66L122.57 383.06L123.15 383.46L123.79 383.87L124.46 384.27L125.15 384.67L125.83 385.07L126.48 385.47L127.09 385.88L127.65 386.28L128.16 386.68L128.6 387.08L128.98 387.48L129.3 387.88L129.57 388.29L129.79 388.69L129.97 389.09L130.1 389.49L130.21 389.89L130.29 390.3L130.35 390.7L130.4 391.1L130.5 391.1 Z" fill="#72b6a1" stroke="#505050" stroke-width="0.85" stroke-linejoin="round"/>
<path d="M130.5 372L130.62 372L130.82 372.4L131.26 372.79L132.1 373.19L133.52 373.59L135.62 373.99L138.28 374.38L141.11 374.78L143.51 375.18L144.87 375.57L144.94 375.97L143.92 376.37L142.48 376.76L141.38 377.16L141.1 377.56L141.67 377.96L142.6 378.35L143.27 378.75L143.18 379.15L142.2 379.54L140.6 379.94L138.8 380.34L137.2 380.74L135.95 381.13L135.04 381.53L134.36 381.93L133.76 382.32L133.19 382.72L132.62 383.12L132.09 383.51L131.63 383.91L131.25 384.31L130.97 384.71L130.78 385.1L130.65 385.5L130.5 385.5 Z" fill="#e9946f" stroke="#505050" stroke-width="0.85" stroke-linejoin="round"/>
<path d="M130.5 370.2V391.1" stroke="#505050" stroke-width="0.6"/>
<path d="M130.5 374.6V380.7" stroke="#505050" stroke-width="2.6"/>
<circle cx="130.5" cy="377.6" r="1.05" fill="#fff" stroke="#484848" stroke-width="0.6"/>
<path d="M166.12 355L166.12 355L166.12 355.4L166.12 355.8L166.12 356.21L166.12 356.61L166.12 357.01L166.12 357.41L166.12 357.81L166.12 358.22L166.12 358.62L166.12 359.02L166.12 359.42L166.12 359.82L166.12 360.23L166.12 360.63L166.12 361.03L166.12 361.43L166.12 361.83L166.11 362.24L166.11 362.64L166.11 363.04L166.11 363.44L166.1 363.84L166.09 364.25L166.09 364.65L166.07 365.05L166.06 365.45L166.04 365.86L166.02 366.26L165.98 366.66L165.95 367.06L165.9 367.46L165.84 367.87L165.77 368.27L165.68 368.67L165.57 369.07L165.45 369.47L165.3 369.88L165.13 370.28L164.93 370.68L164.7 371.08L164.44 371.48L164.15 371.89L163.83 372.29L163.47 372.69L163.08 373.09L162.66 373.49L162.21 373.9L161.74 374.3L161.25 374.7L160.74 375.1L160.23 375.5L159.72 375.91L159.21 376.31L158.73 376.71L158.26 377.11L157.84 377.51L157.45 377.92L157.12 378.32L156.85 378.72L156.64 379.12L156.5 379.52L156.43 379.93L156.43 380.33L156.51 380.73L156.66 381.13L156.88 381.53L157.16 381.94L157.5 382.34L157.89 382.74L158.33 383.14L158.79 383.54L159.28 383.95L159.79 384.35L160.3 384.75L160.81 385.15L161.32 385.56L161.81 385.96L162.28 386.36L162.72 386.76L163.14 387.16L163.52 387.57L163.87 387.97L164.19 388.37L164.48 388.77L164.73 389.17L164.96 389.58L165.15 389.98L165.32 390.38L165.47 390.78L165.59 391.18L165.69 391.59L165.78 391.99L165.85 392.39L165.9 392.79L165.95 393.19L165.99 393.6L166.02 394L166.04 394.4L166.12 394.4 Z" fill="#72b6a1" stroke="#505050" stroke-width="0.85" stroke-linejoin="round"/>
<path d="M166.12 370.5L166.2 370.5L166.25 370.9L166.31 371.3L166.41 371.7L166.54 372.1L166.71 372.5L166.95 372.9L167.26 373.3L167.66 373.7L168.16 374.1L168.77 374.5L169.5 374.9L170.35 375.3L171.31 375.7L172.37 376.1L173.5 376.5L174.67 376.9L175.84 377.3L176.97 377.7L177.99 378.1L178.87 378.5L179.56 378.9L180.01 379.3L180.21 379.7L180.14 380.1L179.82 380.5L179.24 380.9L178.45 381.3L177.5 381.7L176.42 382.1L175.26 382.5L174.08 382.9L172.93 383.3L171.83 383.7L170.82 384.1L169.92 384.5L169.14 384.9L168.48 385.3L167.95 385.7L167.55 386.1L167.27 386.5L167.12 386.9L167.12 387.3L167.26 387.7L167.57 388.1L168.04 388.5L168.69 388.9L169.47 389.3L170.36 389.7L171.27 390.1L172.12 390.5L172.81 390.9L173.27 391.3L173.42 391.7L173.26 392.1L172.8 392.5L172.1 392.9L171.24 393.3L170.31 393.7L169.41 394.1L168.58 394.5L167.89 394.9L167.33 395.3L166.12 395.3 Z" fill="#e9946f" stroke="#505050" stroke-width="0.85" stroke-linejoin="round"/>
<path d="M166.12 355V395.3" stroke="#505050" stroke-width="0.6"/>
<path d="M166.12 377V387" stroke="#505050" stroke-width="2.6"/>
<circle cx="166.12" cy="381" r="1.05" fill="#fff" stroke="#484848" stroke-width="0.6"/>
<path d="M201.74 344L201.74 344L201.74 344.4L201.74 344.8L201.74 345.2L201.74 345.6L201.74 346L201.74 346.4L201.74 346.79L201.74 347.19L201.74 347.59L201.74 347.99L201.74 348.39L201.74 348.79L201.74 349.19L201.74 349.59L201.74 349.99L201.74 350.39L201.74 350.79L201.74 351.19L201.74 351.59L201.74 351.98L201.74 352.38L201.74 352.78L201.74 353.18L201.74 353.58L201.74 353.98L201.74 354.38L201.74 354.78L201.74 355.18L201.73 355.58L201.73 355.98L201.73 356.38L201.73 356.78L201.73 357.17L201.72 357.57L201.72 357.97L201.71 358.37L201.71 358.77L201.7 359.17L201.69 359.57L201.68 359.97L201.66 360.37L201.65 360.77L201.63 361.17L201.6 361.57L201.58 361.97L201.55 362.36L201.51 362.76L201.47 363.16L201.42 363.56L201.37 363.96L201.31 364.36L201.24 364.76L201.16 365.16L201.08 365.56L200.98 365.96L200.88 366.36L200.76 366.76L200.63 367.16L200.5 367.55L200.35 367.95L200.19 368.35L200.02 368.75L199.84 369.15L199.65 369.55L199.45 369.95L199.25 370.35L199.04 370.75L198.82 371.15L198.6 371.55L198.38 371.95L198.16 372.35L197.94 372.74L197.72 373.14L197.51 373.54L197.32 373.94L197.13 374.34L196.95 374.74L196.79 375.14L196.65 375.54L196.53 375.94L196.42 376.34L196.34 376.74L196.28 377.14L196.25 377.54L196.24 377.93L196.25 378.33L196.28 378.73L196.32 379.13L196.39 379.53L196.47 379.93L196.56 380.33L196.67 380.73L196.79 381.13L196.93 381.53L197.08 381.93L197.24 382.33L197.4 382.73L197.58 383.12L197.76 383.52L197.94 383.92L198.13 384.32L198.32 384.72L198.51 385.12L198.7 385.52L198.89 385.92L199.07 386.32L199.25 386.72L199.43 387.12L199.6 387.52L199.76 387.92L199.92 388.31L200.07 388.71L200.22 389.11L200.35 389.51L200.48 389.91L200.6 390.31L200.71 390.71L200.81 391.11L200.91 391.51L201 391.91L201.08 392.31L201.15 392.71L201.22 393.11L201.28 393.5L201.34 393.9L201.39 394.3L201.43 394.7L201.47 395.1L201.51 395.5L201.54 395.9L201.74 395.9 Z" fill="#72b6a1" stroke="#505050" stroke-width="0.85" stroke-linejoin="round"/>
<path d="M201.74 371L201.89 371L201.95 371.4L202.02 371.8L202.11 372.2L202.23 372.61L202.38 373.01L202.58 373.41L202.81 373.81L203.09 374.21L203.44 374.61L203.84 375.02L204.31 375.42L204.85 375.82L205.47 376.22L206.15 376.62L206.91 377.02L207.73 377.43L208.6 377.83L209.5 378.23L210.43 378.63L211.37 379.03L212.28 379.43L213.16 379.84L213.97 380.24L214.69 380.64L215.3 381.04L215.79 381.44L216.13 381.84L216.31 382.25L216.32 382.65L216.01 383.05L215.35 383.45L214.41 383.85L213.25 384.25L211.97 384.65L210.66 385.06L209.4 385.46L208.28 385.86L207.36 386.26L206.69 386.66L206.28 387.06L206.15 387.47L206.25 387.87L206.56 388.27L207.01 388.67L207.53 389.07L208.03 389.47L208.45 389.88L208.73 390.28L208.81 390.68L208.68 391.08L208.33 391.48L207.81 391.88L207.15 392.29L206.4 392.69L205.62 393.09L204.87 393.49L204.18 393.89L203.58 394.29L203.09 394.7L202.69 395.1L202.39 395.5L202.17 395.9L201.74 395.9 Z" fill="#e9946f" stroke="#505050" stroke-width="0.85" stroke-linejoin="round"/>
<path d="M201.74 344V395.9" stroke="#505050" stroke-width="0.6"/>
<path d="M201.74 378.8V388.9" stroke="#505050" stroke-width="2.6"/>
<circle cx="201.74" cy="382.9" r="1.05" fill="#fff" stroke="#484848" stroke-width="0.6"/>
</g>
<rect x="158.05" y="345.3" width="58.6" height="23.9" rx="1.6" fill="#eaeaf2" fill-opacity="0.8" stroke="#ccc" stroke-width="0.7"/>
<rect x="161.15" y="348.95" width="14.4" height="5" fill="#72b6a1" stroke="#505050" stroke-width="0.5"/>
<text x="181.25" y="353.45" font-size="7.12">original</text>
<rect x="161.15" y="359.65" width="14.4" height="5" fill="#e9946f" stroke="#505050" stroke-width="0.5"/>
<text x="181.25" y="364.15" font-size="7.12">generated</text>
<text x="130.5" y="337.95" font-size="8.67" text-anchor="middle">economic_water_productivity</text>
<text x="130.5" y="433.6" font-size="8.67" text-anchor="middle">year_label</text>
<text transform="translate(25.65 375.9) rotate(-90)" font-size="8.67" text-anchor="middle">economic_water_productivity</text>
</g>
<g>
<rect x="273.7" y="342" width="178.1" height="67.8" fill="#eaeaf2"/>
<clipPath id="c10"><rect x="273.7" y="342" width="178.1" height="67.8"/></clipPath>
<path d="M273.7 358.8H451.8" stroke="#fff" stroke-width="0.8"/>
<text x="266.4" y="361.65" font-size="8.0" text-anchor="end">0.35</text>
<path d="M273.7 376.6H451.8" stroke="#fff" stroke-width="0.8"/>
<text x="266.4" y="379.45" font-size="8.0" text-anchor="end">0.30</text>
<path d="M273.7 394.3H451.8" stroke="#fff" stroke-width="0.8"/>
<text x="266.4" y="397.15" font-size="8.0" text-anchor="end">0.25</text>
<text x="291.51" y="423.3" font-size="8.0" text-anchor="middle">1</text>
<text x="327.13" y="423.3" font-size="8.0" text-anchor="middle">2</text>
<text x="362.75" y="423.3" font-size="8.0" text-anchor="middle">3</text>
<text x="398.37" y="423.3" font-size="8.0" text-anchor="middle">4</text>
<text x="433.99" y="423.3" font-size="8.0" text-anchor="middle">5</text>
<g clip-path="url(#c10)" fill="none">
<path d="M291.51 350.2V404.6" stroke="#505050" stroke-width="1.15"/>
<path d="M291.51 357.4H306.11" stroke="#484848" stroke-width="1.25"/>
<circle cx="291.51" cy="357.4" r="1.25" fill="#fff" stroke="#484848" stroke-width="0.6"/>
<path d="M327.13 344V407.8" stroke="#505050" stroke-width="1.15"/>
<path d="M327.13 359.85L341.53 360.35L341.53 361.25L327.13 361.75Z" fill="#484848"/>
<circle cx="327.13" cy="360.8" r="1.25" fill="#fff" stroke="#484848" stroke-width="0.6"/>
<path d="M362.75 345L362.65 345L362.63 345.4L362.61 345.8L362.59 346.2L362.57 346.6L362.54 347L362.51 347.4L362.48 347.8L362.45 348.21L362.41 348.61L362.36 349.01L362.32 349.41L362.27 349.81L362.21 350.21L362.15 350.61L362.09 351.01L362.02 351.41L361.94 351.81L361.87 352.21L361.78 352.61L361.7 353.01L361.61 353.41L361.51 353.81L361.41 354.22L361.31 354.62L361.21 355.02L361.11 355.42L361 355.82L360.89 356.22L360.78 356.62L360.68 357.02L360.57 357.42L360.47 357.82L360.37 358.22L360.27 358.62L360.18 359.02L360.09 359.42L360.01 359.82L359.94 360.22L359.87 360.63L359.81 361.03L359.76 361.43L359.72 361.83L359.69 362.23L359.66 362.63L359.65 363.03L359.65 363.43L359.65 363.83L359.66 364.23L359.66 364.63L359.67 365.03L359.69 365.43L359.7 365.83L359.72 366.23L359.74 366.64L359.76 367.04L359.78 367.44L359.81 367.84L359.84 368.24L359.87 368.64L359.9 369.04L359.93 369.44L359.97 369.84L360.01 370.24L360.05 370.64L360.09 371.04L360.13 371.44L360.18 371.84L360.22 372.24L360.27 372.65L360.32 373.05L360.37 373.45L360.42 373.85L360.47 374.25L360.52 374.65L360.57 375.05L360.62 375.45L360.68 375.85L360.73 376.25L360.78 376.65L360.84 377.05L360.89 377.45L360.94 377.85L361 378.25L361.05 378.65L361.1 379.06L361.16 379.46L361.21 379.86L361.26 380.26L361.31 380.66L361.36 381.06L361.41 381.46L361.46 381.86L361.51 382.26L361.56 382.66L361.61 383.06L361.65 383.46L361.7 383.86L361.74 384.26L361.78 384.66L361.82 385.07L361.86 385.47L361.9 385.87L361.94 386.27L361.98 386.67L362.02 387.07L362.05 387.47L362.09 387.87L362.12 388.27L362.15 388.67L362.18 389.07L362.21 389.47L362.24 389.87L362.27 390.27L362.29 390.67L362.32 391.08L362.34 391.48L362.36 391.88L362.39 392.28L362.41 392.68L362.43 393.08L362.45 393.48L362.46 393.88L362.48 394.28L362.5 394.68L362.51 395.08L362.53 395.48L362.54 395.88L362.56 396.28L362.57 396.68L362.58 397.08L362.59 397.49L362.6 397.89L362.61 398.29L362.62 398.69L362.63 399.09L362.64 399.49L362.65 399.89L362.66 400.29L362.66 400.69L362.67 401.09L362.67 401.49L362.68 401.89L362.69 402.29L362.69 402.69L362.7 403.09L362.7 403.5L362.7 403.9L362.71 404.3L362.71 404.7L362.71 405.1L362.72 405.5L362.72 405.9L362.72 406.3L362.75 406.3 Z" fill="#72b6a1" stroke="#505050" stroke-width="0.85" stroke-linejoin="round"/>
<path d="M362.75 352.5L362.81 352.5L362.85 352.9L362.91 353.3L363.02 353.7L363.17 354.1L363.4 354.5L363.72 354.9L364.17 355.3L364.75 355.7L365.51 356.1L366.44 356.5L367.55 356.9L368.83 357.3L370.24 357.7L371.73 358.1L373.21 358.5L374.6 358.9L375.81 359.3L376.75 359.7L377.35 360.1L377.55 360.5L377.35 360.9L376.75 361.3L375.81 361.7L374.6 362.1L373.21 362.5L371.73 362.9L370.24 363.3L368.83 363.7L367.55 364.1L366.44 364.5L365.51 364.9L364.75 365.3L364.17 365.7L363.72 366.1L363.4 366.5L363.17 366.9L363.02 367.3L362.91 367.7L362.85 368.1L362.81 368.5L362.78 368.9L362.77 369.3L362.76 369.7L362.76 370.1L362.75 370.5L362.75 370.9L362.76 371.3L362.76 371.7L362.76 372.1L362.77 372.5L362.79 372.9L362.82 373.3L362.86 373.7L362.91 374.1L362.99 374.5L363.1 374.9L363.25 375.3L363.44 375.7L363.67 376.1L363.95 376.5L364.27 376.9L364.62 377.3L364.99 377.7L365.36 378.1L365.71 378.5L366.02 378.9L366.25 379.3L366.4 379.7L366.45 380.1L366.4 380.5L366.25 380.9L366.02 381.3L365.71 381.7L365.36 382.1L364.99 382.5L364.62 382.9L364.27 383.3L363.95 383.7L363.67 384.1L363.44 384.5L363.25 384.9L363.1 385.3L362.99 385.7L362.91 386.1L362.86 386.5L362.75 386.5 Z" fill="#e9946f" stroke="#505050" stroke-width="0.85" stroke-linejoin="round"/>
<path d="M362.75 345V406.3" stroke="#505050" stroke-width="0.6"/>
<path d="M362.75 358.7V368.8" stroke="#505050" stroke-width="2.6"/>
<circle cx="362.75" cy="360.9" r="1.05" fill="#fff" stroke="#484848" stroke-width="0.6"/>
<path d="M398.37 345.9L398.21 345.9L398.18 346.3L398.14 346.7L398.09 347.1L398.04 347.49L397.98 347.89L397.9 348.29L397.82 348.69L397.73 349.09L397.62 349.49L397.5 349.89L397.36 350.28L397.21 350.68L397.03 351.08L396.84 351.48L396.63 351.88L396.4 352.28L396.15 352.68L395.88 353.07L395.59 353.47L395.27 353.87L394.94 354.27L394.59 354.67L394.22 355.07L393.83 355.47L393.42 355.86L393.01 356.26L392.59 356.66L392.16 357.06L391.72 357.46L391.29 357.86L390.86 358.26L390.44 358.65L390.04 359.05L389.65 359.45L389.28 359.85L388.93 360.25L388.62 360.65L388.34 361.05L388.09 361.44L387.88 361.84L387.71 362.24L387.59 362.64L387.51 363.04L387.47 363.44L387.46 363.84L387.49 364.23L387.55 364.63L387.64 365.03L387.75 365.43L387.9 365.83L388.07 366.23L388.26 366.63L388.47 367.02L388.7 367.42L388.95 367.82L389.21 368.22L389.48 368.62L389.76 369.02L390.05 369.42L390.34 369.81L390.63 370.21L390.92 370.61L391.21 371.01L391.49 371.41L391.77 371.81L392.03 372.21L392.29 372.6L392.54 373L392.78 373.4L393 373.8L393.22 374.2L393.42 374.6L393.61 374.99L393.78 375.39L393.95 375.79L394.1 376.19L394.25 376.59L394.38 376.99L394.51 377.39L394.62 377.78L394.73 378.18L394.83 378.58L394.93 378.98L395.02 379.38L395.11 379.78L395.19 380.18L395.27 380.57L395.35 380.97L395.43 381.37L395.51 381.77L395.58 382.17L395.66 382.57L395.74 382.97L395.82 383.36L395.89 383.76L395.97 384.16L396.05 384.56L396.14 384.96L396.22 385.36L396.3 385.76L396.38 386.15L396.47 386.55L396.55 386.95L396.64 387.35L396.72 387.75L396.8 388.15L396.88 388.55L396.97 388.94L397.04 389.34L397.12 389.74L397.2 390.14L397.27 390.54L397.34 390.94L397.41 391.34L397.48 391.73L397.54 392.13L397.61 392.53L397.66 392.93L397.72 393.33L397.77 393.73L397.82 394.13L397.87 394.52L397.91 394.92L397.95 395.32L397.99 395.72L398.03 396.12L398.06 396.52L398.09 396.92L398.12 397.31L398.15 397.71L398.17 398.11L398.19 398.51L398.21 398.91L398.23 399.31L398.24 399.71L398.26 400.1L398.27 400.5L398.28 400.9L398.29 401.3L398.37 401.3 Z" fill="#72b6a1" stroke="#505050" stroke-width="0.85" stroke-linejoin="round"/>
<path d="M398.37 349.6L398.63 349.6L398.71 350L398.81 350.4L398.94 350.8L399.09 351.2L399.28 351.6L399.5 352L399.76 352.39L400.07 352.79L400.44 353.19L400.85 353.59L401.32 353.99L401.86 354.39L402.45 354.79L403.09 355.19L403.8 355.59L404.55 355.99L405.34 356.39L406.16 356.79L407 357.18L407.84 357.58L408.67 357.98L409.48 358.38L410.24 358.78L410.95 359.18L411.57 359.58L412.11 359.98L412.54 360.38L412.86 360.78L413.05 361.18L413.11 361.58L413.05 361.97L412.87 362.37L412.56 362.77L412.15 363.17L411.64 363.57L411.05 363.97L410.4 364.37L409.69 364.77L408.96 365.17L408.21 365.57L407.47 365.97L406.74 366.37L406.05 366.76L405.39 367.16L404.79 367.56L404.25 367.96L403.77 368.36L403.35 368.76L402.99 369.16L402.7 369.56L402.46 369.96L402.28 370.36L402.14 370.76L402.04 371.16L401.98 371.55L401.95 371.95L401.94 372.35L401.95 372.75L401.97 373.15L401.99 373.55L402.01 373.95L402.03 374.35L402.04 374.75L402.04 375.15L402.03 375.55L402 375.94L401.96 376.34L401.9 376.74L401.83 377.14L401.75 377.54L401.66 377.94L401.56 378.34L401.45 378.74L401.34 379.14L401.23 379.54L401.13 379.94L401.04 380.34L400.98 380.74L400.94 381.13L400.95 381.53L401 381.93L401.12 382.33L401.3 382.73L401.55 383.13L401.88 383.53L402.3 383.93L402.8 384.33L403.37 384.73L404.01 385.13L404.69 385.52L405.4 385.92L406.11 386.32L406.79 386.72L407.41 387.12L407.94 387.52L408.35 387.92L408.63 388.32L408.75 388.72L408.71 389.12L408.51 389.52L408.15 389.92L407.66 390.31L407.04 390.71L406.34 391.11L405.57 391.51L404.77 391.91L403.97 392.31L403.19 392.71L402.45 393.11L401.77 393.51L401.15 393.91L400.61 394.31L400.14 394.71L399.75 395.11L399.43 395.5L399.17 395.9L398.96 396.3L398.8 396.7L398.68 397.1L398.59 397.5L398.37 397.5 Z" fill="#e9946f" stroke="#505050" stroke-width="0.85" stroke-linejoin="round"/>
<path d="M398.37 345.9V401.3" stroke="#505050" stroke-width="0.6"/>
<path d="M398.37 359.6V388.9" stroke="#505050" stroke-width="2.6"/>
<circle cx="398.37" cy="366" r="1.05" fill="#fff" stroke="#484848" stroke-width="0.6"/>
<path d="M433.99 347.7L433.87 347.7L433.84 348.1L433.79 348.5L433.74 348.9L433.68 349.3L433.6 349.7L433.5 350.11L433.39 350.51L433.25 350.91L433.09 351.31L432.9 351.71L432.68 352.11L432.43 352.51L432.15 352.91L431.82 353.31L431.46 353.71L431.06 354.11L430.62 354.52L430.13 354.92L429.61 355.32L429.06 355.72L428.47 356.12L427.85 356.52L427.21 356.92L426.56 357.32L425.9 357.72L425.25 358.12L424.6 358.52L423.98 358.93L423.4 359.33L422.85 359.73L422.36 360.13L421.93 360.53L421.58 360.93L421.3 361.33L421.1 361.73L420.99 362.13L420.97 362.53L421.01 362.93L421.11 363.33L421.27 363.74L421.47 364.14L421.73 364.54L422.03 364.94L422.38 365.34L422.76 365.74L423.18 366.14L423.62 366.54L424.08 366.94L424.56 367.34L425.05 367.74L425.54 368.15L426.04 368.55L426.53 368.95L427.01 369.35L427.48 369.75L427.93 370.15L428.36 370.55L428.77 370.95L429.15 371.35L429.51 371.75L429.84 372.15L430.15 372.56L430.42 372.96L430.67 373.36L430.89 373.76L431.09 374.16L431.26 374.56L431.41 374.96L431.54 375.36L431.65 375.76L431.75 376.16L431.83 376.56L431.9 376.97L431.96 377.37L432.01 377.77L432.05 378.17L432.09 378.57L432.13 378.97L432.16 379.37L432.19 379.77L432.23 380.17L432.26 380.57L432.3 380.97L432.34 381.38L432.39 381.78L432.44 382.18L432.49 382.58L432.54 382.98L432.6 383.38L432.66 383.78L432.72 384.18L432.78 384.58L432.85 384.98L432.91 385.38L432.98 385.78L433.04 386.19L433.11 386.59L433.17 386.99L433.24 387.39L433.3 387.79L433.36 388.19L433.42 388.59L433.47 388.99L433.52 389.39L433.57 389.79L433.61 390.19L433.65 390.6L433.69 391L433.73 391.4L433.76 391.8L433.79 392.2L433.81 392.6L433.99 392.6 Z" fill="#72b6a1" stroke="#505050" stroke-width="0.85" stroke-linejoin="round"/>
<path d="M433.99 352.5L434.13 352.5L434.17 352.9L434.21 353.3L434.27 353.71L434.34 354.11L434.41 354.51L434.51 354.91L434.61 355.31L434.74 355.71L434.88 356.12L435.04 356.52L435.22 356.92L435.43 357.32L435.65 357.72L435.89 358.12L436.15 358.53L436.43 358.93L436.72 359.33L437.03 359.73L437.34 360.13L437.66 360.54L437.98 360.94L438.29 361.34L438.59 361.74L438.88 362.14L439.15 362.54L439.39 362.95L439.59 363.35L439.77 363.75L439.91 364.15L440 364.55L440.06 364.96L440.07 365.36L440.04 365.76L439.97 366.16L439.87 366.56L439.74 366.96L439.57 367.37L439.39 367.77L439.19 368.17L438.98 368.57L438.76 368.97L438.55 369.38L438.35 369.78L438.16 370.18L437.98 370.58L437.83 370.98L437.7 371.38L437.59 371.79L437.51 372.19L437.46 372.59L437.43 372.99L437.41 373.39L437.42 373.79L437.44 374.2L437.46 374.6L437.5 375L437.53 375.4L437.56 375.8L437.58 376.21L437.59 376.61L437.59 377.01L437.57 377.41L437.54 377.81L437.49 378.21L437.43 378.62L437.36 379.02L437.28 379.42L437.21 379.82L437.14 380.22L437.1 380.62L437.09 381.03L437.13 381.43L437.24 381.83L437.42 382.23L437.69 382.63L438.06 383.04L438.55 383.44L439.16 383.84L439.88 384.24L440.72 384.64L441.65 385.04L442.66 385.45L443.71 385.85L444.77 386.25L445.8 386.65L446.74 387.05L447.56 387.46L448.22 387.86L448.67 388.26L448.9 388.66L448.89 389.06L448.65 389.46L448.17 389.87L447.48 390.27L446.61 390.67L445.61 391.07L444.5 391.47L443.35 391.88L442.18 392.28L441.04 392.68L439.96 393.08L438.96 393.48L438.06 393.88L437.27 394.29L436.58 394.69L436.01 395.09L435.54 395.49L435.15 395.89L434.85 396.29L434.62 396.7L434.44 397.1L434.31 397.5L433.99 397.5 Z" fill="#e9946f" stroke="#505050" stroke-width="0.85" stroke-linejoin="round"/>
<path d="M433.99 347.7V397.1" stroke="#505050" stroke-width="0.6"/>
<path d="M433.99 366V390.7" stroke="#505050" stroke-width="2.6"/>
<circle cx="433.99" cy="385.8" r="1.05" fill="#fff" stroke="#484848" stroke-width="0.6"/>
</g>
<rect x="277.1" y="383.4" width="58.6" height="23.9" rx="1.6" fill="#eaeaf2" fill-opacity="0.8" stroke="#ccc" stroke-width="0.7"/>
<rect x="280.2" y="387.05" width="14.4" height="5" fill="#72b6a1" stroke="#505050" stroke-width="0.5"/>
<text x="300.3" y="391.55" font-size="7.12">original</text>
<rect x="280.2" y="397.75" width="14.4" height="5" fill="#e9946f" stroke="#505050" stroke-width="0.5"/>
<text x="300.3" y="402.25" font-size="7.12">generated</text>
<text x="362.75" y="337.95" font-size="8.67" text-anchor="middle">agr_population_rate</text>
<text x="362.75" y="433.6" font-size="8.67" text-anchor="middle">year_label</text>
<text transform="translate(246.1 375.9) rotate(-90)" font-size="8.67" text-anchor="middle">agr_population_rate</text>
</g>
<g>
<rect x="506" y="342" width="178.1" height="67.8" fill="#eaeaf2"/>
<clipPath id="c11"><rect x="506" y="342" width="178.1" height="67.8"/></clipPath>
<path d="M506 347.15H684.1" stroke="#fff" stroke-width="0.8"/>
<text x="498.7" y="350" font-size="8.0" text-anchor="end">2.0</text>
<path d="M506 366.3H684.1" stroke="#fff" stroke-width="0.8"/>
<text x="498.7" y="369.15" font-size="8.0" text-anchor="end">1.5</text>
<path d="M506 385.5H684.1" stroke="#fff" stroke-width="0.8"/>
<text x="498.7" y="388.35" font-size="8.0" text-anchor="end">1.0</text>
<path d="M506 404.4H684.1" stroke="#fff" stroke-width="0.8"/>
<text x="498.7" y="407.25" font-size="8.0" text-anchor="end">0.5</text>
<text x="523.81" y="423.3" font-size="8.0" text-anchor="middle">1</text>
<text x="559.43" y="423.3" font-size="8.0" text-anchor="middle">2</text>
<text x="595.05" y="423.3" font-size="8.0" text-anchor="middle">3</text>
<text x="630.67" y="423.3" font-size="8.0" text-anchor="middle">4</text>
<text x="666.29" y="423.3" font-size="8.0" text-anchor="middle">5</text>
<g clip-path="url(#c11)" fill="none">
<path d="M523.81 343.4V407.3" stroke="#505050" stroke-width="1.15"/>
<path d="M523.81 398H538.41" stroke="#484848" stroke-width="1.25"/>
<circle cx="523.81" cy="398" r="1.25" fill="#fff" stroke="#484848" stroke-width="0.6"/>
<path d="M559.43 366.7V399.7" stroke="#505050" stroke-width="1.15"/>
<path d="M559.43 388.8L573.83 389.3L573.83 390.2L559.43 390.7Z" fill="#484848"/>
<circle cx="559.43" cy="389.75" r="1.1" fill="#fff" stroke="#484848" stroke-width="0.6"/>
<path d="M595.05 379.8L594.88 379.8L594.81 380.2L594.71 380.59L594.58 380.99L594.41 381.39L594.21 381.79L593.96 382.18L593.66 382.58L593.32 382.98L592.94 383.38L592.53 383.77L592.1 384.17L591.66 384.57L591.23 384.97L590.84 385.36L590.5 385.76L590.23 386.16L590.05 386.56L589.96 386.95L589.97 387.35L590.09 387.75L590.29 388.15L590.58 388.54L590.94 388.94L591.35 389.34L591.78 389.74L592.21 390.13L592.64 390.53L593.05 390.93L593.42 391.33L593.75 391.72L594.03 392.12L594.27 392.52L594.46 392.92L594.62 393.31L594.74 393.71L594.83 394.11L594.9 394.51L594.94 394.9L594.98 395.3L595.05 395.3 Z" fill="#72b6a1" stroke="#505050" stroke-width="0.85" stroke-linejoin="round"/>
<path d="M595.05 385L595.11 385L595.27 385.4L595.77 385.79L596.97 386.19L599.28 386.58L602.72 386.98L606.52 387.38L609.18 387.77L609.4 388.17L607.07 388.56L603.37 388.96L599.88 389.35L597.61 389.75L596.73 390.15L596.94 390.54L597.71 390.94L598.47 391.33L598.75 391.73L598.36 392.12L597.49 392.52L596.53 392.92L595.79 393.31L595.36 393.71L595.15 394.1L595.08 394.5L595.05 394.5 Z" fill="#e9946f" stroke="#505050" stroke-width="0.85" stroke-linejoin="round"/>
<path d="M595.05 379.8V395.3" stroke="#505050" stroke-width="0.6"/>
<path d="M595.05 386.5V389.5" stroke="#505050" stroke-width="2.6"/>
<circle cx="595.05" cy="388.2" r="1.05" fill="#fff" stroke="#484848" stroke-width="0.6"/>
<path d="M630.67 379.8L630.24 379.8L630.05 380.2L629.79 380.59L629.46 380.99L629.04 381.39L628.51 381.79L627.88 382.18L627.14 382.58L626.3 382.98L625.37 383.38L624.39 383.77L623.38 384.17L622.39 384.57L621.47 384.97L620.67 385.36L620.03 385.76L619.59 386.16L619.39 386.56L619.41 386.95L619.62 387.35L620 387.75L620.54 388.15L621.2 388.54L621.97 388.94L622.8 389.34L623.67 389.74L624.55 390.13L625.4 390.53L626.21 390.93L626.96 391.33L627.63 391.72L628.22 392.12L628.73 392.52L629.16 392.92L629.51 393.31L629.79 393.71L630.02 394.11L630.2 394.51L630.33 394.9L630.43 395.3L630.67 395.3 Z" fill="#72b6a1" stroke="#505050" stroke-width="0.85" stroke-linejoin="round"/>
<path d="M630.67 380.3L631.76 380.3L633.14 380.7L635.01 381.11L636.61 381.51L637.02 381.91L636.04 382.31L634.45 382.72L633.28 383.12L633.08 383.52L633.86 383.93L635.39 384.33L637.45 384.73L639.8 385.14L642.11 385.54L644.02 385.94L645.16 386.34L645.35 386.75L645.07 387.15L644.48 387.55L643.63 387.96L642.56 388.36L641.34 388.76L640.03 389.16L638.7 389.57L637.41 389.97L636.21 390.37L635.11 390.78L634.16 391.18L633.35 391.58L632.68 391.99L632.15 392.39L631.73 392.79L631.41 393.19L631.18 393.6L631.01 394L630.67 394 Z" fill="#e9946f" stroke="#505050" stroke-width="0.85" stroke-linejoin="round"/>
<path d="M630.67 379.8V395.3" stroke="#505050" stroke-width="0.6"/>
<path d="M630.67 384.3V389" stroke="#505050" stroke-width="2.6"/>
<circle cx="630.67" cy="386.7" r="1.05" fill="#fff" stroke="#484848" stroke-width="0.6"/>
<path d="M666.29 376.1L666.19 376.1L666.16 376.5L666.13 376.9L666.08 377.3L666.01 377.7L665.93 378.1L665.82 378.5L665.68 378.9L665.51 379.3L665.28 379.7L665.01 380.1L664.68 380.5L664.28 380.9L663.81 381.3L663.27 381.7L662.64 382.1L661.94 382.5L661.17 382.9L660.34 383.3L659.47 383.7L658.57 384.1L657.67 384.5L656.79 384.9L655.96 385.3L655.21 385.7L654.57 386.1L654.05 386.5L653.68 386.9L653.48 387.3L653.43 387.7L653.54 388.1L653.81 388.5L654.2 388.9L654.72 389.3L655.34 389.7L656.03 390.1L656.77 390.5L657.53 390.9L658.3 391.3L659.06 391.7L659.78 392.1L660.46 392.5L661.09 392.9L661.66 393.3L662.16 393.7L662.61 394.1L663.01 394.5L663.35 394.9L663.65 395.3L663.9 395.7L664.12 396.1L664.32 396.5L664.49 396.9L664.64 397.3L664.78 397.7L664.9 398.1L665.01 398.5L665.12 398.9L665.22 399.3L665.31 399.7L665.4 400.1L665.48 400.5L665.55 400.9L665.63 401.3L665.69 401.7L665.76 402.1L665.81 402.5L665.87 402.9L665.92 403.3L665.96 403.7L666 404.1L666.04 404.5L666.29 404.5 Z" fill="#72b6a1" stroke="#505050" stroke-width="0.85" stroke-linejoin="round"/>
<path d="M666.29 376.1L666.85 376.1L667.23 376.5L667.78 376.9L668.52 377.31L669.45 377.71L670.52 378.11L671.66 378.51L672.73 378.91L673.61 379.32L674.19 379.72L674.4 380.12L674.23 380.52L673.77 380.93L673.15 381.33L672.51 381.73L672.02 382.13L671.8 382.53L671.91 382.94L672.38 383.34L673.18 383.74L674.24 384.14L675.46 384.54L676.75 384.95L678 385.35L679.11 385.75L679.99 386.15L680.57 386.56L680.79 386.96L680.68 387.36L680.3 387.76L679.67 388.16L678.82 388.57L677.81 388.97L676.67 389.37L675.47 389.77L674.25 390.17L673.07 390.58L671.95 390.98L670.92 391.38L670.01 391.78L669.22 392.19L668.56 392.59L668.01 392.99L667.57 393.39L667.22 393.79L666.96 394.2L666.76 394.6L666.61 395L666.29 395 Z" fill="#e9946f" stroke="#505050" stroke-width="0.85" stroke-linejoin="round"/>
<path d="M666.29 376.1V404.5" stroke="#505050" stroke-width="0.6"/>
<path d="M666.29 383.4V390.7" stroke="#505050" stroke-width="2.6"/>
<circle cx="666.29" cy="387" r="1.05" fill="#fff" stroke="#484848" stroke-width="0.6"/>
</g>
<rect x="622.6" y="345.3" width="58.6" height="23.9" rx="1.6" fill="#eaeaf2" fill-opacity="0.8" stroke="#ccc" stroke-width="0.7"/>
<rect x="625.7" y="348.95" width="14.4" height="5" fill="#72b6a1" stroke="#505050" stroke-width="0.5"/>
<text x="645.8" y="353.45" font-size="7.12">original</text>
<rect x="625.7" y="359.65" width="14.4" height="5" fill="#e9946f" stroke="#505050" stroke-width="0.5"/>
<text x="645.8" y="364.15" font-size="7.12">generated</text>
<text x="595.05" y="337.95" font-size="8.67" text-anchor="middle">reliablity</text>
<text x="595.05" y="433.6" font-size="8.67" text-anchor="middle">year_label</text>
<text transform="translate(482.9 375.9) rotate(-90)" font-size="8.67" text-anchor="middle">reliablity</text>
</g>
<rect x="683.5" y="0" width="1.5" height="437" fill="#fff"/>
</svg>
</body>
</html>
